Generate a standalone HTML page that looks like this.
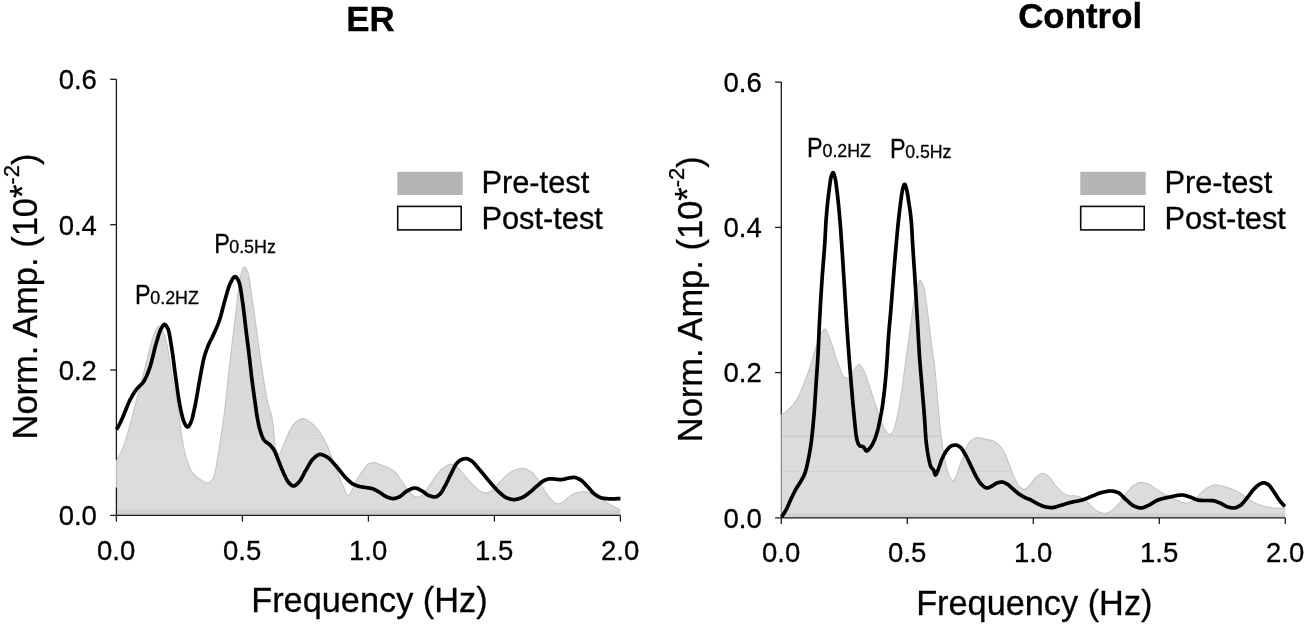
<!DOCTYPE html>
<html><head><meta charset="utf-8"><title>ER vs Control</title>
<style>
html,body{margin:0;padding:0;background:#fff;}
body{width:1306px;height:625px;overflow:hidden;}
svg{display:block;will-change:transform;opacity:0.999;}
svg text{font-family:"Liberation Sans",sans-serif;fill:#000;stroke:#000;stroke-width:0.3px;stroke-linejoin:round;}
</style></head>
<body>
<svg width="1306" height="625" viewBox="0 0 1306 625">
<defs><pattern id="hatch" width="8" height="2.6" patternUnits="userSpaceOnUse"><rect width="8" height="1" y="0.8" fill="#d5d5d5"/></pattern></defs>
<rect width="1306" height="625" fill="#fff"/>
<g id="left">
<path d="M116.4,460.6 L116.9,459.9 L117.4,459.1 L117.9,458.3 L118.4,457.4 L118.9,456.5 L119.4,455.6 L119.9,454.6 L120.4,453.5 L120.9,452.5 L121.4,451.4 L121.9,450.2 L122.4,449.0 L122.9,447.8 L123.4,446.4 L123.9,445.0 L124.4,443.6 L124.9,442.1 L125.4,440.5 L125.9,438.9 L126.4,437.3 L126.9,435.6 L127.4,434.0 L127.9,432.3 L128.4,430.7 L128.9,428.9 L129.4,427.2 L129.9,425.4 L130.4,423.5 L130.9,421.6 L131.4,419.7 L131.9,417.8 L132.4,415.9 L132.9,413.9 L133.4,412.0 L133.9,410.1 L134.4,408.1 L134.9,406.2 L135.4,404.3 L135.9,402.4 L136.4,400.5 L136.9,398.6 L137.4,396.8 L137.9,394.9 L138.4,393.1 L138.9,391.2 L139.4,389.4 L139.9,387.5 L140.4,385.6 L140.9,383.8 L141.4,381.9 L141.9,380.0 L142.4,378.1 L142.9,376.2 L143.4,374.3 L143.9,372.4 L144.4,370.4 L144.9,368.4 L145.4,366.4 L145.9,364.3 L146.4,362.2 L146.9,360.2 L147.4,358.1 L147.9,356.1 L148.4,354.0 L148.9,352.1 L149.4,350.2 L149.9,348.4 L150.4,346.6 L150.9,344.8 L151.4,342.9 L151.9,341.1 L152.4,339.4 L152.9,337.7 L153.4,336.1 L153.9,334.7 L154.4,333.3 L154.9,332.2 L155.4,331.2 L155.9,330.1 L156.4,329.1 L156.9,328.2 L157.4,327.3 L157.9,326.7 L158.4,326.2 L158.9,326.0 L159.4,326.1 L159.9,326.5 L160.4,327.0 L160.9,327.8 L161.4,328.7 L161.9,329.7 L162.4,330.7 L162.9,331.8 L163.4,332.9 L163.9,334.1 L164.4,335.5 L164.9,337.1 L165.4,338.8 L165.9,340.6 L166.4,342.6 L166.9,344.6 L167.4,346.8 L167.9,349.4 L168.4,352.2 L168.9,355.2 L169.4,358.3 L169.9,361.4 L170.4,364.5 L170.9,367.8 L171.4,371.2 L171.9,374.6 L172.4,378.1 L172.9,381.4 L173.4,384.5 L173.9,387.5 L174.4,390.0 L174.9,392.3 L175.4,394.5 L175.9,396.6 L176.4,398.9 L176.9,401.4 L177.4,404.5 L177.9,407.9 L178.4,411.7 L178.9,415.7 L179.4,419.6 L179.9,423.3 L180.4,426.8 L180.9,430.4 L181.4,434.0 L181.9,437.5 L182.4,440.6 L182.9,443.5 L183.4,446.0 L183.9,448.3 L184.4,450.5 L184.9,452.6 L185.4,454.6 L185.9,456.4 L186.4,458.1 L186.9,459.7 L187.4,461.2 L187.9,462.7 L188.4,464.1 L188.9,465.5 L189.4,466.8 L189.9,468.0 L190.4,469.2 L190.9,470.2 L191.4,471.1 L191.9,471.9 L192.4,472.5 L192.9,473.1 L193.4,473.7 L193.9,474.2 L194.4,474.7 L194.9,475.2 L195.4,475.7 L195.9,476.1 L196.4,476.5 L196.9,476.9 L197.4,477.2 L197.9,477.6 L198.4,477.9 L198.9,478.3 L199.4,478.6 L199.9,478.9 L200.4,479.3 L200.9,479.6 L201.4,480.0 L201.9,480.3 L202.4,480.7 L202.9,481.0 L203.4,481.4 L203.9,481.7 L204.4,482.0 L204.9,482.2 L205.4,482.5 L205.9,482.7 L206.4,482.8 L206.9,482.9 L207.4,483.0 L207.9,483.0 L208.4,482.9 L208.9,482.7 L209.4,482.4 L209.9,482.0 L210.4,481.6 L210.9,481.2 L211.4,480.7 L211.9,480.1 L212.4,479.4 L212.9,478.4 L213.4,477.2 L213.9,475.7 L214.4,474.1 L214.9,472.4 L215.4,470.4 L215.9,468.1 L216.4,465.4 L216.9,462.6 L217.4,459.6 L217.9,456.6 L218.4,453.6 L218.9,450.3 L219.4,447.0 L219.9,443.5 L220.4,440.1 L220.9,436.7 L221.4,433.4 L221.9,430.2 L222.4,427.0 L222.9,423.7 L223.4,420.3 L223.9,416.7 L224.4,412.9 L224.9,408.7 L225.4,404.4 L225.9,399.9 L226.4,395.3 L226.9,390.6 L227.4,385.7 L227.9,380.9 L228.4,376.3 L228.9,371.6 L229.4,366.9 L229.9,362.4 L230.4,357.9 L230.9,353.5 L231.4,349.2 L231.9,345.0 L232.4,340.8 L232.9,336.7 L233.4,332.8 L233.9,328.8 L234.4,324.8 L234.9,320.8 L235.4,316.6 L235.9,312.1 L236.4,307.5 L236.9,302.9 L237.4,298.4 L237.9,294.1 L238.4,290.1 L238.9,286.6 L239.4,283.5 L239.9,280.5 L240.4,277.6 L240.9,275.1 L241.4,272.9 L241.9,271.3 L242.4,270.0 L242.9,268.9 L243.4,267.9 L243.9,267.2 L244.4,267.0 L244.9,267.2 L245.4,267.6 L245.9,268.3 L246.4,269.2 L246.9,270.3 L247.4,271.5 L247.9,272.7 L248.4,274.3 L248.9,276.6 L249.4,279.5 L249.9,282.8 L250.4,286.4 L250.9,290.1 L251.4,293.8 L251.9,297.3 L252.4,300.7 L252.9,304.1 L253.4,307.5 L253.9,311.0 L254.4,314.5 L254.9,318.1 L255.4,321.7 L255.9,325.3 L256.4,328.9 L256.9,332.6 L257.4,336.4 L257.9,340.2 L258.4,344.0 L258.9,347.7 L259.4,351.3 L259.9,354.8 L260.4,358.3 L260.9,361.8 L261.4,365.2 L261.9,368.6 L262.4,371.9 L262.9,375.2 L263.4,378.3 L263.9,381.4 L264.4,384.4 L264.9,387.4 L265.4,390.4 L265.9,393.4 L266.4,396.2 L266.9,398.9 L267.4,401.3 L267.9,403.6 L268.4,405.5 L268.9,407.2 L269.4,408.7 L269.9,410.2 L270.4,411.7 L270.9,413.3 L271.4,415.2 L271.9,417.4 L272.4,420.0 L272.9,423.3 L273.4,427.5 L273.9,432.9 L274.4,439.4 L274.9,445.4 L275.4,447.5 L275.9,449.2 L276.4,450.6 L276.9,451.8 L277.4,452.7 L277.9,453.4 L278.4,453.8 L278.9,454.0 L279.4,453.9 L279.9,453.4 L280.4,452.7 L280.9,451.7 L281.4,450.6 L281.9,449.3 L282.4,448.0 L282.9,446.7 L283.4,445.4 L283.9,444.2 L284.4,443.1 L284.9,441.9 L285.4,440.7 L285.9,439.5 L286.4,438.2 L286.9,436.9 L287.4,435.6 L287.9,434.4 L288.4,433.2 L288.9,432.1 L289.4,431.1 L289.9,430.2 L290.4,429.3 L290.9,428.5 L291.4,427.7 L291.9,426.9 L292.4,426.1 L292.9,425.4 L293.4,424.7 L293.9,424.0 L294.4,423.4 L294.9,422.8 L295.4,422.3 L295.9,421.8 L296.4,421.4 L296.9,421.1 L297.4,420.8 L297.9,420.5 L298.4,420.2 L298.9,419.9 L299.4,419.6 L299.9,419.4 L300.4,419.2 L300.9,419.0 L301.4,418.8 L301.9,418.7 L302.4,418.6 L302.9,418.6 L303.4,418.6 L303.9,418.7 L304.4,418.8 L304.9,419.0 L305.4,419.2 L305.9,419.4 L306.4,419.7 L306.9,420.0 L307.4,420.3 L307.9,420.6 L308.4,420.9 L308.9,421.3 L309.4,421.6 L309.9,421.9 L310.4,422.3 L310.9,422.6 L311.4,423.0 L311.9,423.4 L312.4,423.9 L312.9,424.3 L313.4,424.8 L313.9,425.3 L314.4,425.8 L314.9,426.4 L315.4,426.9 L315.9,427.5 L316.4,428.1 L316.9,428.7 L317.4,429.3 L317.9,429.9 L318.4,430.5 L318.9,431.2 L319.4,431.8 L319.9,432.5 L320.4,433.3 L320.9,434.0 L321.4,434.8 L321.9,435.6 L322.4,436.4 L322.9,437.3 L323.4,438.1 L323.9,439.0 L324.4,439.9 L324.9,440.9 L325.4,441.8 L325.9,442.8 L326.4,443.8 L326.9,444.9 L327.4,446.1 L327.9,447.3 L328.4,448.5 L328.9,449.8 L329.4,451.1 L329.9,452.4 L330.4,453.8 L330.9,455.1 L331.4,456.4 L331.9,457.7 L332.4,459.0 L332.9,460.4 L333.4,461.7 L333.9,463.1 L334.4,464.4 L334.9,465.8 L335.4,467.2 L335.9,468.5 L336.4,469.9 L336.9,471.2 L337.4,472.5 L337.9,473.8 L338.4,475.0 L338.9,476.2 L339.4,477.5 L339.9,478.7 L340.4,479.9 L340.9,481.1 L341.4,482.2 L341.9,483.4 L342.4,484.5 L342.9,485.6 L343.4,486.7 L343.9,487.8 L344.4,488.9 L344.9,490.1 L345.4,491.4 L345.9,492.6 L346.4,493.7 L346.9,494.6 L347.4,495.3 L347.9,495.6 L348.4,495.5 L348.9,495.2 L349.4,494.7 L349.9,494.1 L350.4,493.5 L350.9,492.6 L351.4,491.6 L351.9,490.4 L352.4,489.3 L352.9,488.2 L353.4,487.2 L353.9,486.2 L354.4,485.1 L354.9,484.1 L355.4,483.0 L355.9,482.0 L356.4,481.0 L356.9,480.0 L357.4,479.1 L357.9,478.2 L358.4,477.3 L358.9,476.5 L359.4,475.7 L359.9,474.9 L360.4,474.1 L360.9,473.3 L361.4,472.5 L361.9,471.8 L362.4,471.1 L362.9,470.4 L363.4,469.8 L363.9,469.1 L364.4,468.5 L364.9,467.8 L365.4,467.2 L365.9,466.5 L366.4,465.9 L366.9,465.3 L367.4,464.7 L367.9,464.3 L368.4,463.9 L368.9,463.6 L369.4,463.5 L369.9,463.3 L370.4,463.2 L370.9,463.0 L371.4,462.9 L371.9,462.8 L372.4,462.7 L372.9,462.7 L373.4,462.6 L373.9,462.6 L374.4,462.6 L374.9,462.7 L375.4,462.8 L375.9,462.9 L376.4,463.1 L376.9,463.2 L377.4,463.4 L377.9,463.7 L378.4,463.9 L378.9,464.1 L379.4,464.3 L379.9,464.6 L380.4,464.8 L380.9,465.0 L381.4,465.1 L381.9,465.3 L382.4,465.5 L382.9,465.7 L383.4,465.8 L383.9,466.0 L384.4,466.2 L384.9,466.3 L385.4,466.5 L385.9,466.7 L386.4,466.9 L386.9,467.1 L387.4,467.3 L387.9,467.5 L388.4,467.7 L388.9,468.0 L389.4,468.2 L389.9,468.5 L390.4,468.7 L390.9,469.0 L391.4,469.3 L391.9,469.6 L392.4,470.0 L392.9,470.3 L393.4,470.7 L393.9,471.1 L394.4,471.5 L394.9,471.9 L395.4,472.4 L395.9,472.9 L396.4,473.5 L396.9,474.1 L397.4,474.8 L397.9,475.5 L398.4,476.2 L398.9,476.9 L399.4,477.7 L399.9,478.4 L400.4,479.2 L400.9,479.9 L401.4,480.6 L401.9,481.3 L402.4,482.0 L402.9,482.8 L403.4,483.5 L403.9,484.3 L404.4,485.0 L404.9,485.8 L405.4,486.5 L405.9,487.2 L406.4,487.9 L406.9,488.6 L407.4,489.3 L407.9,489.9 L408.4,490.5 L408.9,491.1 L409.4,491.7 L409.9,492.3 L410.4,492.9 L410.9,493.5 L411.4,494.0 L411.9,494.5 L412.4,495.0 L412.9,495.4 L413.4,495.7 L413.9,496.0 L414.4,496.2 L414.9,496.3 L415.4,496.5 L415.9,496.7 L416.4,496.8 L416.9,496.9 L417.4,497.0 L417.9,497.0 L418.4,497.0 L418.9,496.9 L419.4,496.7 L419.9,496.4 L420.4,496.1 L420.9,495.7 L421.4,495.3 L421.9,494.9 L422.4,494.5 L422.9,494.1 L423.4,493.6 L423.9,493.1 L424.4,492.6 L424.9,491.9 L425.4,491.3 L425.9,490.6 L426.4,489.8 L426.9,489.1 L427.4,488.3 L427.9,487.6 L428.4,486.8 L428.9,486.1 L429.4,485.4 L429.9,484.7 L430.4,484.0 L430.9,483.3 L431.4,482.5 L431.9,481.8 L432.4,481.1 L432.9,480.3 L433.4,479.6 L433.9,478.9 L434.4,478.1 L434.9,477.5 L435.4,476.8 L435.9,476.1 L436.4,475.5 L436.9,474.8 L437.4,474.2 L437.9,473.5 L438.4,472.9 L438.9,472.2 L439.4,471.6 L439.9,471.0 L440.4,470.4 L440.9,469.8 L441.4,469.3 L441.9,468.9 L442.4,468.4 L442.9,468.1 L443.4,467.7 L443.9,467.4 L444.4,467.1 L444.9,466.8 L445.4,466.5 L445.9,466.2 L446.4,465.9 L446.9,465.6 L447.4,465.3 L447.9,465.1 L448.4,464.9 L448.9,464.7 L449.4,464.6 L449.9,464.5 L450.4,464.4 L450.9,464.4 L451.4,464.4 L451.9,464.5 L452.4,464.6 L452.9,464.8 L453.4,465.0 L453.9,465.2 L454.4,465.5 L454.9,465.8 L455.4,466.2 L455.9,466.5 L456.4,466.8 L456.9,467.2 L457.4,467.6 L457.9,467.9 L458.4,468.3 L458.9,468.7 L459.4,469.2 L459.9,469.7 L460.4,470.3 L460.9,470.9 L461.4,471.5 L461.9,472.1 L462.4,472.8 L462.9,473.4 L463.4,474.1 L463.9,474.7 L464.4,475.3 L464.9,475.9 L465.4,476.5 L465.9,477.0 L466.4,477.6 L466.9,478.2 L467.4,478.8 L467.9,479.4 L468.4,480.0 L468.9,480.5 L469.4,481.1 L469.9,481.7 L470.4,482.3 L470.9,482.8 L471.4,483.4 L471.9,483.9 L472.4,484.4 L472.9,484.9 L473.4,485.4 L473.9,485.9 L474.4,486.4 L474.9,486.9 L475.4,487.3 L475.9,487.8 L476.4,488.3 L476.9,488.7 L477.4,489.2 L477.9,489.6 L478.4,490.0 L478.9,490.3 L479.4,490.7 L479.9,490.9 L480.4,491.2 L480.9,491.5 L481.4,491.8 L481.9,492.0 L482.4,492.3 L482.9,492.5 L483.4,492.7 L483.9,492.9 L484.4,493.0 L484.9,493.0 L485.4,493.0 L485.9,492.9 L486.4,492.8 L486.9,492.7 L487.4,492.6 L487.9,492.4 L488.4,492.2 L488.9,492.0 L489.4,491.8 L489.9,491.5 L490.4,491.3 L490.9,491.0 L491.4,490.8 L491.9,490.5 L492.4,490.1 L492.9,489.7 L493.4,489.2 L493.9,488.7 L494.4,488.2 L494.9,487.6 L495.4,487.1 L495.9,486.5 L496.4,485.9 L496.9,485.3 L497.4,484.7 L497.9,484.2 L498.4,483.6 L498.9,483.1 L499.4,482.6 L499.9,482.1 L500.4,481.6 L500.9,481.0 L501.4,480.5 L501.9,479.9 L502.4,479.4 L502.9,478.9 L503.4,478.3 L503.9,477.8 L504.4,477.3 L504.9,476.8 L505.4,476.4 L505.9,475.9 L506.4,475.5 L506.9,475.1 L507.4,474.7 L507.9,474.3 L508.4,473.9 L508.9,473.5 L509.4,473.2 L509.9,472.8 L510.4,472.4 L510.9,472.1 L511.4,471.7 L511.9,471.4 L512.4,471.1 L512.9,470.9 L513.4,470.6 L513.9,470.4 L514.4,470.2 L514.9,470.0 L515.4,469.9 L515.9,469.8 L516.4,469.6 L516.9,469.5 L517.4,469.4 L517.9,469.3 L518.4,469.1 L518.9,469.0 L519.4,469.0 L519.9,468.9 L520.4,468.8 L520.9,468.7 L521.4,468.7 L521.9,468.6 L522.4,468.6 L522.9,468.6 L523.4,468.6 L523.9,468.7 L524.4,468.7 L524.9,468.8 L525.4,469.0 L525.9,469.1 L526.4,469.3 L526.9,469.5 L527.4,469.7 L527.9,470.0 L528.4,470.2 L528.9,470.4 L529.4,470.7 L529.9,470.9 L530.4,471.2 L530.9,471.5 L531.4,471.9 L531.9,472.3 L532.4,472.8 L532.9,473.2 L533.4,473.7 L533.9,474.3 L534.4,474.8 L534.9,475.4 L535.4,476.0 L535.9,476.6 L536.4,477.2 L536.9,477.9 L537.4,478.5 L537.9,479.2 L538.4,480.0 L538.9,480.8 L539.4,481.7 L539.9,482.6 L540.4,483.5 L540.9,484.4 L541.4,485.3 L541.9,486.2 L542.4,487.0 L542.9,487.8 L543.4,488.6 L543.9,489.4 L544.4,490.2 L544.9,491.0 L545.4,491.8 L545.9,492.6 L546.4,493.4 L546.9,494.2 L547.4,494.9 L547.9,495.6 L548.4,496.3 L548.9,496.9 L549.4,497.5 L549.9,498.1 L550.4,498.6 L550.9,499.2 L551.4,499.7 L551.9,500.2 L552.4,500.7 L552.9,501.2 L553.4,501.6 L553.9,501.9 L554.4,502.3 L554.9,502.6 L555.4,503.0 L555.9,503.3 L556.4,503.5 L556.9,503.8 L557.4,503.9 L557.9,504.0 L558.4,504.0 L558.9,503.9 L559.4,503.8 L559.9,503.6 L560.4,503.4 L560.9,503.1 L561.4,502.9 L561.9,502.6 L562.4,502.3 L562.9,502.1 L563.4,501.8 L563.9,501.4 L564.4,501.0 L564.9,500.6 L565.4,500.2 L565.9,499.7 L566.4,499.2 L566.9,498.8 L567.4,498.3 L567.9,497.9 L568.4,497.4 L568.9,497.1 L569.4,496.7 L569.9,496.4 L570.4,496.0 L570.9,495.7 L571.4,495.4 L571.9,495.0 L572.4,494.7 L572.9,494.4 L573.4,494.1 L573.9,493.9 L574.4,493.6 L574.9,493.4 L575.4,493.2 L575.9,493.0 L576.4,492.9 L576.9,492.7 L577.4,492.6 L577.9,492.4 L578.4,492.3 L578.9,492.2 L579.4,492.1 L579.9,492.0 L580.4,491.9 L580.9,491.8 L581.4,491.7 L581.9,491.6 L582.4,491.6 L582.9,491.6 L583.4,491.6 L583.9,491.6 L584.4,491.7 L584.9,491.8 L585.4,491.9 L585.9,492.0 L586.4,492.1 L586.9,492.2 L587.4,492.4 L587.9,492.5 L588.4,492.7 L588.9,492.9 L589.4,493.0 L589.9,493.2 L590.4,493.4 L590.9,493.6 L591.4,493.7 L591.9,493.9 L592.4,494.1 L592.9,494.4 L593.4,494.6 L593.9,494.9 L594.4,495.1 L594.9,495.4 L595.4,495.7 L595.9,496.0 L596.4,496.2 L596.9,496.5 L597.4,496.8 L597.9,497.1 L598.4,497.5 L598.9,497.8 L599.4,498.1 L599.9,498.4 L600.4,498.7 L600.9,498.9 L601.4,499.2 L601.9,499.5 L602.4,499.8 L602.9,500.1 L603.4,500.4 L603.9,500.7 L604.4,501.0 L604.9,501.4 L605.4,501.7 L605.9,502.0 L606.4,502.3 L606.9,502.6 L607.4,502.9 L607.9,503.2 L608.4,503.5 L608.9,503.8 L609.4,504.1 L609.9,504.4 L610.4,504.7 L610.9,504.9 L611.4,505.2 L611.9,505.5 L612.4,505.7 L612.9,506.0 L613.4,506.3 L613.9,506.5 L614.4,506.8 L614.9,507.0 L615.4,507.3 L615.9,507.5 L616.4,507.8 L616.9,508.0 L617.4,508.2 L617.9,508.5 L618.4,508.7 L618.9,508.9 L619.4,509.2 L619.9,509.4 L620.4,509.6 L620.4,515.4 L116.4,515.4 Z" fill="#dcdcdc" stroke="none"/>
<clipPath id="cER"><path d="M116.4,460.6 L116.9,459.9 L117.4,459.1 L117.9,458.3 L118.4,457.4 L118.9,456.5 L119.4,455.6 L119.9,454.6 L120.4,453.5 L120.9,452.5 L121.4,451.4 L121.9,450.2 L122.4,449.0 L122.9,447.8 L123.4,446.4 L123.9,445.0 L124.4,443.6 L124.9,442.1 L125.4,440.5 L125.9,438.9 L126.4,437.3 L126.9,435.6 L127.4,434.0 L127.9,432.3 L128.4,430.7 L128.9,428.9 L129.4,427.2 L129.9,425.4 L130.4,423.5 L130.9,421.6 L131.4,419.7 L131.9,417.8 L132.4,415.9 L132.9,413.9 L133.4,412.0 L133.9,410.1 L134.4,408.1 L134.9,406.2 L135.4,404.3 L135.9,402.4 L136.4,400.5 L136.9,398.6 L137.4,396.8 L137.9,394.9 L138.4,393.1 L138.9,391.2 L139.4,389.4 L139.9,387.5 L140.4,385.6 L140.9,383.8 L141.4,381.9 L141.9,380.0 L142.4,378.1 L142.9,376.2 L143.4,374.3 L143.9,372.4 L144.4,370.4 L144.9,368.4 L145.4,366.4 L145.9,364.3 L146.4,362.2 L146.9,360.2 L147.4,358.1 L147.9,356.1 L148.4,354.0 L148.9,352.1 L149.4,350.2 L149.9,348.4 L150.4,346.6 L150.9,344.8 L151.4,342.9 L151.9,341.1 L152.4,339.4 L152.9,337.7 L153.4,336.1 L153.9,334.7 L154.4,333.3 L154.9,332.2 L155.4,331.2 L155.9,330.1 L156.4,329.1 L156.9,328.2 L157.4,327.3 L157.9,326.7 L158.4,326.2 L158.9,326.0 L159.4,326.1 L159.9,326.5 L160.4,327.0 L160.9,327.8 L161.4,328.7 L161.9,329.7 L162.4,330.7 L162.9,331.8 L163.4,332.9 L163.9,334.1 L164.4,335.5 L164.9,337.1 L165.4,338.8 L165.9,340.6 L166.4,342.6 L166.9,344.6 L167.4,346.8 L167.9,349.4 L168.4,352.2 L168.9,355.2 L169.4,358.3 L169.9,361.4 L170.4,364.5 L170.9,367.8 L171.4,371.2 L171.9,374.6 L172.4,378.1 L172.9,381.4 L173.4,384.5 L173.9,387.5 L174.4,390.0 L174.9,392.3 L175.4,394.5 L175.9,396.6 L176.4,398.9 L176.9,401.4 L177.4,404.5 L177.9,407.9 L178.4,411.7 L178.9,415.7 L179.4,419.6 L179.9,423.3 L180.4,426.8 L180.9,430.4 L181.4,434.0 L181.9,437.5 L182.4,440.6 L182.9,443.5 L183.4,446.0 L183.9,448.3 L184.4,450.5 L184.9,452.6 L185.4,454.6 L185.9,456.4 L186.4,458.1 L186.9,459.7 L187.4,461.2 L187.9,462.7 L188.4,464.1 L188.9,465.5 L189.4,466.8 L189.9,468.0 L190.4,469.2 L190.9,470.2 L191.4,471.1 L191.9,471.9 L192.4,472.5 L192.9,473.1 L193.4,473.7 L193.9,474.2 L194.4,474.7 L194.9,475.2 L195.4,475.7 L195.9,476.1 L196.4,476.5 L196.9,476.9 L197.4,477.2 L197.9,477.6 L198.4,477.9 L198.9,478.3 L199.4,478.6 L199.9,478.9 L200.4,479.3 L200.9,479.6 L201.4,480.0 L201.9,480.3 L202.4,480.7 L202.9,481.0 L203.4,481.4 L203.9,481.7 L204.4,482.0 L204.9,482.2 L205.4,482.5 L205.9,482.7 L206.4,482.8 L206.9,482.9 L207.4,483.0 L207.9,483.0 L208.4,482.9 L208.9,482.7 L209.4,482.4 L209.9,482.0 L210.4,481.6 L210.9,481.2 L211.4,480.7 L211.9,480.1 L212.4,479.4 L212.9,478.4 L213.4,477.2 L213.9,475.7 L214.4,474.1 L214.9,472.4 L215.4,470.4 L215.9,468.1 L216.4,465.4 L216.9,462.6 L217.4,459.6 L217.9,456.6 L218.4,453.6 L218.9,450.3 L219.4,447.0 L219.9,443.5 L220.4,440.1 L220.9,436.7 L221.4,433.4 L221.9,430.2 L222.4,427.0 L222.9,423.7 L223.4,420.3 L223.9,416.7 L224.4,412.9 L224.9,408.7 L225.4,404.4 L225.9,399.9 L226.4,395.3 L226.9,390.6 L227.4,385.7 L227.9,380.9 L228.4,376.3 L228.9,371.6 L229.4,366.9 L229.9,362.4 L230.4,357.9 L230.9,353.5 L231.4,349.2 L231.9,345.0 L232.4,340.8 L232.9,336.7 L233.4,332.8 L233.9,328.8 L234.4,324.8 L234.9,320.8 L235.4,316.6 L235.9,312.1 L236.4,307.5 L236.9,302.9 L237.4,298.4 L237.9,294.1 L238.4,290.1 L238.9,286.6 L239.4,283.5 L239.9,280.5 L240.4,277.6 L240.9,275.1 L241.4,272.9 L241.9,271.3 L242.4,270.0 L242.9,268.9 L243.4,267.9 L243.9,267.2 L244.4,267.0 L244.9,267.2 L245.4,267.6 L245.9,268.3 L246.4,269.2 L246.9,270.3 L247.4,271.5 L247.9,272.7 L248.4,274.3 L248.9,276.6 L249.4,279.5 L249.9,282.8 L250.4,286.4 L250.9,290.1 L251.4,293.8 L251.9,297.3 L252.4,300.7 L252.9,304.1 L253.4,307.5 L253.9,311.0 L254.4,314.5 L254.9,318.1 L255.4,321.7 L255.9,325.3 L256.4,328.9 L256.9,332.6 L257.4,336.4 L257.9,340.2 L258.4,344.0 L258.9,347.7 L259.4,351.3 L259.9,354.8 L260.4,358.3 L260.9,361.8 L261.4,365.2 L261.9,368.6 L262.4,371.9 L262.9,375.2 L263.4,378.3 L263.9,381.4 L264.4,384.4 L264.9,387.4 L265.4,390.4 L265.9,393.4 L266.4,396.2 L266.9,398.9 L267.4,401.3 L267.9,403.6 L268.4,405.5 L268.9,407.2 L269.4,408.7 L269.9,410.2 L270.4,411.7 L270.9,413.3 L271.4,415.2 L271.9,417.4 L272.4,420.0 L272.9,423.3 L273.4,427.5 L273.9,432.9 L274.4,439.4 L274.9,445.4 L275.4,447.5 L275.9,449.2 L276.4,450.6 L276.9,451.8 L277.4,452.7 L277.9,453.4 L278.4,453.8 L278.9,454.0 L279.4,453.9 L279.9,453.4 L280.4,452.7 L280.9,451.7 L281.4,450.6 L281.9,449.3 L282.4,448.0 L282.9,446.7 L283.4,445.4 L283.9,444.2 L284.4,443.1 L284.9,441.9 L285.4,440.7 L285.9,439.5 L286.4,438.2 L286.9,436.9 L287.4,435.6 L287.9,434.4 L288.4,433.2 L288.9,432.1 L289.4,431.1 L289.9,430.2 L290.4,429.3 L290.9,428.5 L291.4,427.7 L291.9,426.9 L292.4,426.1 L292.9,425.4 L293.4,424.7 L293.9,424.0 L294.4,423.4 L294.9,422.8 L295.4,422.3 L295.9,421.8 L296.4,421.4 L296.9,421.1 L297.4,420.8 L297.9,420.5 L298.4,420.2 L298.9,419.9 L299.4,419.6 L299.9,419.4 L300.4,419.2 L300.9,419.0 L301.4,418.8 L301.9,418.7 L302.4,418.6 L302.9,418.6 L303.4,418.6 L303.9,418.7 L304.4,418.8 L304.9,419.0 L305.4,419.2 L305.9,419.4 L306.4,419.7 L306.9,420.0 L307.4,420.3 L307.9,420.6 L308.4,420.9 L308.9,421.3 L309.4,421.6 L309.9,421.9 L310.4,422.3 L310.9,422.6 L311.4,423.0 L311.9,423.4 L312.4,423.9 L312.9,424.3 L313.4,424.8 L313.9,425.3 L314.4,425.8 L314.9,426.4 L315.4,426.9 L315.9,427.5 L316.4,428.1 L316.9,428.7 L317.4,429.3 L317.9,429.9 L318.4,430.5 L318.9,431.2 L319.4,431.8 L319.9,432.5 L320.4,433.3 L320.9,434.0 L321.4,434.8 L321.9,435.6 L322.4,436.4 L322.9,437.3 L323.4,438.1 L323.9,439.0 L324.4,439.9 L324.9,440.9 L325.4,441.8 L325.9,442.8 L326.4,443.8 L326.9,444.9 L327.4,446.1 L327.9,447.3 L328.4,448.5 L328.9,449.8 L329.4,451.1 L329.9,452.4 L330.4,453.8 L330.9,455.1 L331.4,456.4 L331.9,457.7 L332.4,459.0 L332.9,460.4 L333.4,461.7 L333.9,463.1 L334.4,464.4 L334.9,465.8 L335.4,467.2 L335.9,468.5 L336.4,469.9 L336.9,471.2 L337.4,472.5 L337.9,473.8 L338.4,475.0 L338.9,476.2 L339.4,477.5 L339.9,478.7 L340.4,479.9 L340.9,481.1 L341.4,482.2 L341.9,483.4 L342.4,484.5 L342.9,485.6 L343.4,486.7 L343.9,487.8 L344.4,488.9 L344.9,490.1 L345.4,491.4 L345.9,492.6 L346.4,493.7 L346.9,494.6 L347.4,495.3 L347.9,495.6 L348.4,495.5 L348.9,495.2 L349.4,494.7 L349.9,494.1 L350.4,493.5 L350.9,492.6 L351.4,491.6 L351.9,490.4 L352.4,489.3 L352.9,488.2 L353.4,487.2 L353.9,486.2 L354.4,485.1 L354.9,484.1 L355.4,483.0 L355.9,482.0 L356.4,481.0 L356.9,480.0 L357.4,479.1 L357.9,478.2 L358.4,477.3 L358.9,476.5 L359.4,475.7 L359.9,474.9 L360.4,474.1 L360.9,473.3 L361.4,472.5 L361.9,471.8 L362.4,471.1 L362.9,470.4 L363.4,469.8 L363.9,469.1 L364.4,468.5 L364.9,467.8 L365.4,467.2 L365.9,466.5 L366.4,465.9 L366.9,465.3 L367.4,464.7 L367.9,464.3 L368.4,463.9 L368.9,463.6 L369.4,463.5 L369.9,463.3 L370.4,463.2 L370.9,463.0 L371.4,462.9 L371.9,462.8 L372.4,462.7 L372.9,462.7 L373.4,462.6 L373.9,462.6 L374.4,462.6 L374.9,462.7 L375.4,462.8 L375.9,462.9 L376.4,463.1 L376.9,463.2 L377.4,463.4 L377.9,463.7 L378.4,463.9 L378.9,464.1 L379.4,464.3 L379.9,464.6 L380.4,464.8 L380.9,465.0 L381.4,465.1 L381.9,465.3 L382.4,465.5 L382.9,465.7 L383.4,465.8 L383.9,466.0 L384.4,466.2 L384.9,466.3 L385.4,466.5 L385.9,466.7 L386.4,466.9 L386.9,467.1 L387.4,467.3 L387.9,467.5 L388.4,467.7 L388.9,468.0 L389.4,468.2 L389.9,468.5 L390.4,468.7 L390.9,469.0 L391.4,469.3 L391.9,469.6 L392.4,470.0 L392.9,470.3 L393.4,470.7 L393.9,471.1 L394.4,471.5 L394.9,471.9 L395.4,472.4 L395.9,472.9 L396.4,473.5 L396.9,474.1 L397.4,474.8 L397.9,475.5 L398.4,476.2 L398.9,476.9 L399.4,477.7 L399.9,478.4 L400.4,479.2 L400.9,479.9 L401.4,480.6 L401.9,481.3 L402.4,482.0 L402.9,482.8 L403.4,483.5 L403.9,484.3 L404.4,485.0 L404.9,485.8 L405.4,486.5 L405.9,487.2 L406.4,487.9 L406.9,488.6 L407.4,489.3 L407.9,489.9 L408.4,490.5 L408.9,491.1 L409.4,491.7 L409.9,492.3 L410.4,492.9 L410.9,493.5 L411.4,494.0 L411.9,494.5 L412.4,495.0 L412.9,495.4 L413.4,495.7 L413.9,496.0 L414.4,496.2 L414.9,496.3 L415.4,496.5 L415.9,496.7 L416.4,496.8 L416.9,496.9 L417.4,497.0 L417.9,497.0 L418.4,497.0 L418.9,496.9 L419.4,496.7 L419.9,496.4 L420.4,496.1 L420.9,495.7 L421.4,495.3 L421.9,494.9 L422.4,494.5 L422.9,494.1 L423.4,493.6 L423.9,493.1 L424.4,492.6 L424.9,491.9 L425.4,491.3 L425.9,490.6 L426.4,489.8 L426.9,489.1 L427.4,488.3 L427.9,487.6 L428.4,486.8 L428.9,486.1 L429.4,485.4 L429.9,484.7 L430.4,484.0 L430.9,483.3 L431.4,482.5 L431.9,481.8 L432.4,481.1 L432.9,480.3 L433.4,479.6 L433.9,478.9 L434.4,478.1 L434.9,477.5 L435.4,476.8 L435.9,476.1 L436.4,475.5 L436.9,474.8 L437.4,474.2 L437.9,473.5 L438.4,472.9 L438.9,472.2 L439.4,471.6 L439.9,471.0 L440.4,470.4 L440.9,469.8 L441.4,469.3 L441.9,468.9 L442.4,468.4 L442.9,468.1 L443.4,467.7 L443.9,467.4 L444.4,467.1 L444.9,466.8 L445.4,466.5 L445.9,466.2 L446.4,465.9 L446.9,465.6 L447.4,465.3 L447.9,465.1 L448.4,464.9 L448.9,464.7 L449.4,464.6 L449.9,464.5 L450.4,464.4 L450.9,464.4 L451.4,464.4 L451.9,464.5 L452.4,464.6 L452.9,464.8 L453.4,465.0 L453.9,465.2 L454.4,465.5 L454.9,465.8 L455.4,466.2 L455.9,466.5 L456.4,466.8 L456.9,467.2 L457.4,467.6 L457.9,467.9 L458.4,468.3 L458.9,468.7 L459.4,469.2 L459.9,469.7 L460.4,470.3 L460.9,470.9 L461.4,471.5 L461.9,472.1 L462.4,472.8 L462.9,473.4 L463.4,474.1 L463.9,474.7 L464.4,475.3 L464.9,475.9 L465.4,476.5 L465.9,477.0 L466.4,477.6 L466.9,478.2 L467.4,478.8 L467.9,479.4 L468.4,480.0 L468.9,480.5 L469.4,481.1 L469.9,481.7 L470.4,482.3 L470.9,482.8 L471.4,483.4 L471.9,483.9 L472.4,484.4 L472.9,484.9 L473.4,485.4 L473.9,485.9 L474.4,486.4 L474.9,486.9 L475.4,487.3 L475.9,487.8 L476.4,488.3 L476.9,488.7 L477.4,489.2 L477.9,489.6 L478.4,490.0 L478.9,490.3 L479.4,490.7 L479.9,490.9 L480.4,491.2 L480.9,491.5 L481.4,491.8 L481.9,492.0 L482.4,492.3 L482.9,492.5 L483.4,492.7 L483.9,492.9 L484.4,493.0 L484.9,493.0 L485.4,493.0 L485.9,492.9 L486.4,492.8 L486.9,492.7 L487.4,492.6 L487.9,492.4 L488.4,492.2 L488.9,492.0 L489.4,491.8 L489.9,491.5 L490.4,491.3 L490.9,491.0 L491.4,490.8 L491.9,490.5 L492.4,490.1 L492.9,489.7 L493.4,489.2 L493.9,488.7 L494.4,488.2 L494.9,487.6 L495.4,487.1 L495.9,486.5 L496.4,485.9 L496.9,485.3 L497.4,484.7 L497.9,484.2 L498.4,483.6 L498.9,483.1 L499.4,482.6 L499.9,482.1 L500.4,481.6 L500.9,481.0 L501.4,480.5 L501.9,479.9 L502.4,479.4 L502.9,478.9 L503.4,478.3 L503.9,477.8 L504.4,477.3 L504.9,476.8 L505.4,476.4 L505.9,475.9 L506.4,475.5 L506.9,475.1 L507.4,474.7 L507.9,474.3 L508.4,473.9 L508.9,473.5 L509.4,473.2 L509.9,472.8 L510.4,472.4 L510.9,472.1 L511.4,471.7 L511.9,471.4 L512.4,471.1 L512.9,470.9 L513.4,470.6 L513.9,470.4 L514.4,470.2 L514.9,470.0 L515.4,469.9 L515.9,469.8 L516.4,469.6 L516.9,469.5 L517.4,469.4 L517.9,469.3 L518.4,469.1 L518.9,469.0 L519.4,469.0 L519.9,468.9 L520.4,468.8 L520.9,468.7 L521.4,468.7 L521.9,468.6 L522.4,468.6 L522.9,468.6 L523.4,468.6 L523.9,468.7 L524.4,468.7 L524.9,468.8 L525.4,469.0 L525.9,469.1 L526.4,469.3 L526.9,469.5 L527.4,469.7 L527.9,470.0 L528.4,470.2 L528.9,470.4 L529.4,470.7 L529.9,470.9 L530.4,471.2 L530.9,471.5 L531.4,471.9 L531.9,472.3 L532.4,472.8 L532.9,473.2 L533.4,473.7 L533.9,474.3 L534.4,474.8 L534.9,475.4 L535.4,476.0 L535.9,476.6 L536.4,477.2 L536.9,477.9 L537.4,478.5 L537.9,479.2 L538.4,480.0 L538.9,480.8 L539.4,481.7 L539.9,482.6 L540.4,483.5 L540.9,484.4 L541.4,485.3 L541.9,486.2 L542.4,487.0 L542.9,487.8 L543.4,488.6 L543.9,489.4 L544.4,490.2 L544.9,491.0 L545.4,491.8 L545.9,492.6 L546.4,493.4 L546.9,494.2 L547.4,494.9 L547.9,495.6 L548.4,496.3 L548.9,496.9 L549.4,497.5 L549.9,498.1 L550.4,498.6 L550.9,499.2 L551.4,499.7 L551.9,500.2 L552.4,500.7 L552.9,501.2 L553.4,501.6 L553.9,501.9 L554.4,502.3 L554.9,502.6 L555.4,503.0 L555.9,503.3 L556.4,503.5 L556.9,503.8 L557.4,503.9 L557.9,504.0 L558.4,504.0 L558.9,503.9 L559.4,503.8 L559.9,503.6 L560.4,503.4 L560.9,503.1 L561.4,502.9 L561.9,502.6 L562.4,502.3 L562.9,502.1 L563.4,501.8 L563.9,501.4 L564.4,501.0 L564.9,500.6 L565.4,500.2 L565.9,499.7 L566.4,499.2 L566.9,498.8 L567.4,498.3 L567.9,497.9 L568.4,497.4 L568.9,497.1 L569.4,496.7 L569.9,496.4 L570.4,496.0 L570.9,495.7 L571.4,495.4 L571.9,495.0 L572.4,494.7 L572.9,494.4 L573.4,494.1 L573.9,493.9 L574.4,493.6 L574.9,493.4 L575.4,493.2 L575.9,493.0 L576.4,492.9 L576.9,492.7 L577.4,492.6 L577.9,492.4 L578.4,492.3 L578.9,492.2 L579.4,492.1 L579.9,492.0 L580.4,491.9 L580.9,491.8 L581.4,491.7 L581.9,491.6 L582.4,491.6 L582.9,491.6 L583.4,491.6 L583.9,491.6 L584.4,491.7 L584.9,491.8 L585.4,491.9 L585.9,492.0 L586.4,492.1 L586.9,492.2 L587.4,492.4 L587.9,492.5 L588.4,492.7 L588.9,492.9 L589.4,493.0 L589.9,493.2 L590.4,493.4 L590.9,493.6 L591.4,493.7 L591.9,493.9 L592.4,494.1 L592.9,494.4 L593.4,494.6 L593.9,494.9 L594.4,495.1 L594.9,495.4 L595.4,495.7 L595.9,496.0 L596.4,496.2 L596.9,496.5 L597.4,496.8 L597.9,497.1 L598.4,497.5 L598.9,497.8 L599.4,498.1 L599.9,498.4 L600.4,498.7 L600.9,498.9 L601.4,499.2 L601.9,499.5 L602.4,499.8 L602.9,500.1 L603.4,500.4 L603.9,500.7 L604.4,501.0 L604.9,501.4 L605.4,501.7 L605.9,502.0 L606.4,502.3 L606.9,502.6 L607.4,502.9 L607.9,503.2 L608.4,503.5 L608.9,503.8 L609.4,504.1 L609.9,504.4 L610.4,504.7 L610.9,504.9 L611.4,505.2 L611.9,505.5 L612.4,505.7 L612.9,506.0 L613.4,506.3 L613.9,506.5 L614.4,506.8 L614.9,507.0 L615.4,507.3 L615.9,507.5 L616.4,507.8 L616.9,508.0 L617.4,508.2 L617.9,508.5 L618.4,508.7 L618.9,508.9 L619.4,509.2 L619.9,509.4 L620.4,509.6 L620.4,515.4 L116.4,515.4 Z"/></clipPath>
<g clip-path="url(#cER)">
<rect x="116.4" y="79.3" width="504.0" height="361.7" fill="url(#hatch)"/>
<rect x="116.4" y="509.8" width="504.0" height="6.0" fill="#d0d0d0"/>
</g>
<path d="M116.4,460.6 L116.9,459.9 L117.4,459.1 L117.9,458.3 L118.4,457.4 L118.9,456.5 L119.4,455.6 L119.9,454.6 L120.4,453.5 L120.9,452.5 L121.4,451.4 L121.9,450.2 L122.4,449.0 L122.9,447.8 L123.4,446.4 L123.9,445.0 L124.4,443.6 L124.9,442.1 L125.4,440.5 L125.9,438.9 L126.4,437.3 L126.9,435.6 L127.4,434.0 L127.9,432.3 L128.4,430.7 L128.9,428.9 L129.4,427.2 L129.9,425.4 L130.4,423.5 L130.9,421.6 L131.4,419.7 L131.9,417.8 L132.4,415.9 L132.9,413.9 L133.4,412.0 L133.9,410.1 L134.4,408.1 L134.9,406.2 L135.4,404.3 L135.9,402.4 L136.4,400.5 L136.9,398.6 L137.4,396.8 L137.9,394.9 L138.4,393.1 L138.9,391.2 L139.4,389.4 L139.9,387.5 L140.4,385.6 L140.9,383.8 L141.4,381.9 L141.9,380.0 L142.4,378.1 L142.9,376.2 L143.4,374.3 L143.9,372.4 L144.4,370.4 L144.9,368.4 L145.4,366.4 L145.9,364.3 L146.4,362.2 L146.9,360.2 L147.4,358.1 L147.9,356.1 L148.4,354.0 L148.9,352.1 L149.4,350.2 L149.9,348.4 L150.4,346.6 L150.9,344.8 L151.4,342.9 L151.9,341.1 L152.4,339.4 L152.9,337.7 L153.4,336.1 L153.9,334.7 L154.4,333.3 L154.9,332.2 L155.4,331.2 L155.9,330.1 L156.4,329.1 L156.9,328.2 L157.4,327.3 L157.9,326.7 L158.4,326.2 L158.9,326.0 L159.4,326.1 L159.9,326.5 L160.4,327.0 L160.9,327.8 L161.4,328.7 L161.9,329.7 L162.4,330.7 L162.9,331.8 L163.4,332.9 L163.9,334.1 L164.4,335.5 L164.9,337.1 L165.4,338.8 L165.9,340.6 L166.4,342.6 L166.9,344.6 L167.4,346.8 L167.9,349.4 L168.4,352.2 L168.9,355.2 L169.4,358.3 L169.9,361.4 L170.4,364.5 L170.9,367.8 L171.4,371.2 L171.9,374.6 L172.4,378.1 L172.9,381.4 L173.4,384.5 L173.9,387.5 L174.4,390.0 L174.9,392.3 L175.4,394.5 L175.9,396.6 L176.4,398.9 L176.9,401.4 L177.4,404.5 L177.9,407.9 L178.4,411.7 L178.9,415.7 L179.4,419.6 L179.9,423.3 L180.4,426.8 L180.9,430.4 L181.4,434.0 L181.9,437.5 L182.4,440.6 L182.9,443.5 L183.4,446.0 L183.9,448.3 L184.4,450.5 L184.9,452.6 L185.4,454.6 L185.9,456.4 L186.4,458.1 L186.9,459.7 L187.4,461.2 L187.9,462.7 L188.4,464.1 L188.9,465.5 L189.4,466.8 L189.9,468.0 L190.4,469.2 L190.9,470.2 L191.4,471.1 L191.9,471.9 L192.4,472.5 L192.9,473.1 L193.4,473.7 L193.9,474.2 L194.4,474.7 L194.9,475.2 L195.4,475.7 L195.9,476.1 L196.4,476.5 L196.9,476.9 L197.4,477.2 L197.9,477.6 L198.4,477.9 L198.9,478.3 L199.4,478.6 L199.9,478.9 L200.4,479.3 L200.9,479.6 L201.4,480.0 L201.9,480.3 L202.4,480.7 L202.9,481.0 L203.4,481.4 L203.9,481.7 L204.4,482.0 L204.9,482.2 L205.4,482.5 L205.9,482.7 L206.4,482.8 L206.9,482.9 L207.4,483.0 L207.9,483.0 L208.4,482.9 L208.9,482.7 L209.4,482.4 L209.9,482.0 L210.4,481.6 L210.9,481.2 L211.4,480.7 L211.9,480.1 L212.4,479.4 L212.9,478.4 L213.4,477.2 L213.9,475.7 L214.4,474.1 L214.9,472.4 L215.4,470.4 L215.9,468.1 L216.4,465.4 L216.9,462.6 L217.4,459.6 L217.9,456.6 L218.4,453.6 L218.9,450.3 L219.4,447.0 L219.9,443.5 L220.4,440.1 L220.9,436.7 L221.4,433.4 L221.9,430.2 L222.4,427.0 L222.9,423.7 L223.4,420.3 L223.9,416.7 L224.4,412.9 L224.9,408.7 L225.4,404.4 L225.9,399.9 L226.4,395.3 L226.9,390.6 L227.4,385.7 L227.9,380.9 L228.4,376.3 L228.9,371.6 L229.4,366.9 L229.9,362.4 L230.4,357.9 L230.9,353.5 L231.4,349.2 L231.9,345.0 L232.4,340.8 L232.9,336.7 L233.4,332.8 L233.9,328.8 L234.4,324.8 L234.9,320.8 L235.4,316.6 L235.9,312.1 L236.4,307.5 L236.9,302.9 L237.4,298.4 L237.9,294.1 L238.4,290.1 L238.9,286.6 L239.4,283.5 L239.9,280.5 L240.4,277.6 L240.9,275.1 L241.4,272.9 L241.9,271.3 L242.4,270.0 L242.9,268.9 L243.4,267.9 L243.9,267.2 L244.4,267.0 L244.9,267.2 L245.4,267.6 L245.9,268.3 L246.4,269.2 L246.9,270.3 L247.4,271.5 L247.9,272.7 L248.4,274.3 L248.9,276.6 L249.4,279.5 L249.9,282.8 L250.4,286.4 L250.9,290.1 L251.4,293.8 L251.9,297.3 L252.4,300.7 L252.9,304.1 L253.4,307.5 L253.9,311.0 L254.4,314.5 L254.9,318.1 L255.4,321.7 L255.9,325.3 L256.4,328.9 L256.9,332.6 L257.4,336.4 L257.9,340.2 L258.4,344.0 L258.9,347.7 L259.4,351.3 L259.9,354.8 L260.4,358.3 L260.9,361.8 L261.4,365.2 L261.9,368.6 L262.4,371.9 L262.9,375.2 L263.4,378.3 L263.9,381.4 L264.4,384.4 L264.9,387.4 L265.4,390.4 L265.9,393.4 L266.4,396.2 L266.9,398.9 L267.4,401.3 L267.9,403.6 L268.4,405.5 L268.9,407.2 L269.4,408.7 L269.9,410.2 L270.4,411.7 L270.9,413.3 L271.4,415.2 L271.9,417.4 L272.4,420.0 L272.9,423.3 L273.4,427.5 L273.9,432.9 L274.4,439.4 L274.9,445.4 L275.4,447.5 L275.9,449.2 L276.4,450.6 L276.9,451.8 L277.4,452.7 L277.9,453.4 L278.4,453.8 L278.9,454.0 L279.4,453.9 L279.9,453.4 L280.4,452.7 L280.9,451.7 L281.4,450.6 L281.9,449.3 L282.4,448.0 L282.9,446.7 L283.4,445.4 L283.9,444.2 L284.4,443.1 L284.9,441.9 L285.4,440.7 L285.9,439.5 L286.4,438.2 L286.9,436.9 L287.4,435.6 L287.9,434.4 L288.4,433.2 L288.9,432.1 L289.4,431.1 L289.9,430.2 L290.4,429.3 L290.9,428.5 L291.4,427.7 L291.9,426.9 L292.4,426.1 L292.9,425.4 L293.4,424.7 L293.9,424.0 L294.4,423.4 L294.9,422.8 L295.4,422.3 L295.9,421.8 L296.4,421.4 L296.9,421.1 L297.4,420.8 L297.9,420.5 L298.4,420.2 L298.9,419.9 L299.4,419.6 L299.9,419.4 L300.4,419.2 L300.9,419.0 L301.4,418.8 L301.9,418.7 L302.4,418.6 L302.9,418.6 L303.4,418.6 L303.9,418.7 L304.4,418.8 L304.9,419.0 L305.4,419.2 L305.9,419.4 L306.4,419.7 L306.9,420.0 L307.4,420.3 L307.9,420.6 L308.4,420.9 L308.9,421.3 L309.4,421.6 L309.9,421.9 L310.4,422.3 L310.9,422.6 L311.4,423.0 L311.9,423.4 L312.4,423.9 L312.9,424.3 L313.4,424.8 L313.9,425.3 L314.4,425.8 L314.9,426.4 L315.4,426.9 L315.9,427.5 L316.4,428.1 L316.9,428.7 L317.4,429.3 L317.9,429.9 L318.4,430.5 L318.9,431.2 L319.4,431.8 L319.9,432.5 L320.4,433.3 L320.9,434.0 L321.4,434.8 L321.9,435.6 L322.4,436.4 L322.9,437.3 L323.4,438.1 L323.9,439.0 L324.4,439.9 L324.9,440.9 L325.4,441.8 L325.9,442.8 L326.4,443.8 L326.9,444.9 L327.4,446.1 L327.9,447.3 L328.4,448.5 L328.9,449.8 L329.4,451.1 L329.9,452.4 L330.4,453.8 L330.9,455.1 L331.4,456.4 L331.9,457.7 L332.4,459.0 L332.9,460.4 L333.4,461.7 L333.9,463.1 L334.4,464.4 L334.9,465.8 L335.4,467.2 L335.9,468.5 L336.4,469.9 L336.9,471.2 L337.4,472.5 L337.9,473.8 L338.4,475.0 L338.9,476.2 L339.4,477.5 L339.9,478.7 L340.4,479.9 L340.9,481.1 L341.4,482.2 L341.9,483.4 L342.4,484.5 L342.9,485.6 L343.4,486.7 L343.9,487.8 L344.4,488.9 L344.9,490.1 L345.4,491.4 L345.9,492.6 L346.4,493.7 L346.9,494.6 L347.4,495.3 L347.9,495.6 L348.4,495.5 L348.9,495.2 L349.4,494.7 L349.9,494.1 L350.4,493.5 L350.9,492.6 L351.4,491.6 L351.9,490.4 L352.4,489.3 L352.9,488.2 L353.4,487.2 L353.9,486.2 L354.4,485.1 L354.9,484.1 L355.4,483.0 L355.9,482.0 L356.4,481.0 L356.9,480.0 L357.4,479.1 L357.9,478.2 L358.4,477.3 L358.9,476.5 L359.4,475.7 L359.9,474.9 L360.4,474.1 L360.9,473.3 L361.4,472.5 L361.9,471.8 L362.4,471.1 L362.9,470.4 L363.4,469.8 L363.9,469.1 L364.4,468.5 L364.9,467.8 L365.4,467.2 L365.9,466.5 L366.4,465.9 L366.9,465.3 L367.4,464.7 L367.9,464.3 L368.4,463.9 L368.9,463.6 L369.4,463.5 L369.9,463.3 L370.4,463.2 L370.9,463.0 L371.4,462.9 L371.9,462.8 L372.4,462.7 L372.9,462.7 L373.4,462.6 L373.9,462.6 L374.4,462.6 L374.9,462.7 L375.4,462.8 L375.9,462.9 L376.4,463.1 L376.9,463.2 L377.4,463.4 L377.9,463.7 L378.4,463.9 L378.9,464.1 L379.4,464.3 L379.9,464.6 L380.4,464.8 L380.9,465.0 L381.4,465.1 L381.9,465.3 L382.4,465.5 L382.9,465.7 L383.4,465.8 L383.9,466.0 L384.4,466.2 L384.9,466.3 L385.4,466.5 L385.9,466.7 L386.4,466.9 L386.9,467.1 L387.4,467.3 L387.9,467.5 L388.4,467.7 L388.9,468.0 L389.4,468.2 L389.9,468.5 L390.4,468.7 L390.9,469.0 L391.4,469.3 L391.9,469.6 L392.4,470.0 L392.9,470.3 L393.4,470.7 L393.9,471.1 L394.4,471.5 L394.9,471.9 L395.4,472.4 L395.9,472.9 L396.4,473.5 L396.9,474.1 L397.4,474.8 L397.9,475.5 L398.4,476.2 L398.9,476.9 L399.4,477.7 L399.9,478.4 L400.4,479.2 L400.9,479.9 L401.4,480.6 L401.9,481.3 L402.4,482.0 L402.9,482.8 L403.4,483.5 L403.9,484.3 L404.4,485.0 L404.9,485.8 L405.4,486.5 L405.9,487.2 L406.4,487.9 L406.9,488.6 L407.4,489.3 L407.9,489.9 L408.4,490.5 L408.9,491.1 L409.4,491.7 L409.9,492.3 L410.4,492.9 L410.9,493.5 L411.4,494.0 L411.9,494.5 L412.4,495.0 L412.9,495.4 L413.4,495.7 L413.9,496.0 L414.4,496.2 L414.9,496.3 L415.4,496.5 L415.9,496.7 L416.4,496.8 L416.9,496.9 L417.4,497.0 L417.9,497.0 L418.4,497.0 L418.9,496.9 L419.4,496.7 L419.9,496.4 L420.4,496.1 L420.9,495.7 L421.4,495.3 L421.9,494.9 L422.4,494.5 L422.9,494.1 L423.4,493.6 L423.9,493.1 L424.4,492.6 L424.9,491.9 L425.4,491.3 L425.9,490.6 L426.4,489.8 L426.9,489.1 L427.4,488.3 L427.9,487.6 L428.4,486.8 L428.9,486.1 L429.4,485.4 L429.9,484.7 L430.4,484.0 L430.9,483.3 L431.4,482.5 L431.9,481.8 L432.4,481.1 L432.9,480.3 L433.4,479.6 L433.9,478.9 L434.4,478.1 L434.9,477.5 L435.4,476.8 L435.9,476.1 L436.4,475.5 L436.9,474.8 L437.4,474.2 L437.9,473.5 L438.4,472.9 L438.9,472.2 L439.4,471.6 L439.9,471.0 L440.4,470.4 L440.9,469.8 L441.4,469.3 L441.9,468.9 L442.4,468.4 L442.9,468.1 L443.4,467.7 L443.9,467.4 L444.4,467.1 L444.9,466.8 L445.4,466.5 L445.9,466.2 L446.4,465.9 L446.9,465.6 L447.4,465.3 L447.9,465.1 L448.4,464.9 L448.9,464.7 L449.4,464.6 L449.9,464.5 L450.4,464.4 L450.9,464.4 L451.4,464.4 L451.9,464.5 L452.4,464.6 L452.9,464.8 L453.4,465.0 L453.9,465.2 L454.4,465.5 L454.9,465.8 L455.4,466.2 L455.9,466.5 L456.4,466.8 L456.9,467.2 L457.4,467.6 L457.9,467.9 L458.4,468.3 L458.9,468.7 L459.4,469.2 L459.9,469.7 L460.4,470.3 L460.9,470.9 L461.4,471.5 L461.9,472.1 L462.4,472.8 L462.9,473.4 L463.4,474.1 L463.9,474.7 L464.4,475.3 L464.9,475.9 L465.4,476.5 L465.9,477.0 L466.4,477.6 L466.9,478.2 L467.4,478.8 L467.9,479.4 L468.4,480.0 L468.9,480.5 L469.4,481.1 L469.9,481.7 L470.4,482.3 L470.9,482.8 L471.4,483.4 L471.9,483.9 L472.4,484.4 L472.9,484.9 L473.4,485.4 L473.9,485.9 L474.4,486.4 L474.9,486.9 L475.4,487.3 L475.9,487.8 L476.4,488.3 L476.9,488.7 L477.4,489.2 L477.9,489.6 L478.4,490.0 L478.9,490.3 L479.4,490.7 L479.9,490.9 L480.4,491.2 L480.9,491.5 L481.4,491.8 L481.9,492.0 L482.4,492.3 L482.9,492.5 L483.4,492.7 L483.9,492.9 L484.4,493.0 L484.9,493.0 L485.4,493.0 L485.9,492.9 L486.4,492.8 L486.9,492.7 L487.4,492.6 L487.9,492.4 L488.4,492.2 L488.9,492.0 L489.4,491.8 L489.9,491.5 L490.4,491.3 L490.9,491.0 L491.4,490.8 L491.9,490.5 L492.4,490.1 L492.9,489.7 L493.4,489.2 L493.9,488.7 L494.4,488.2 L494.9,487.6 L495.4,487.1 L495.9,486.5 L496.4,485.9 L496.9,485.3 L497.4,484.7 L497.9,484.2 L498.4,483.6 L498.9,483.1 L499.4,482.6 L499.9,482.1 L500.4,481.6 L500.9,481.0 L501.4,480.5 L501.9,479.9 L502.4,479.4 L502.9,478.9 L503.4,478.3 L503.9,477.8 L504.4,477.3 L504.9,476.8 L505.4,476.4 L505.9,475.9 L506.4,475.5 L506.9,475.1 L507.4,474.7 L507.9,474.3 L508.4,473.9 L508.9,473.5 L509.4,473.2 L509.9,472.8 L510.4,472.4 L510.9,472.1 L511.4,471.7 L511.9,471.4 L512.4,471.1 L512.9,470.9 L513.4,470.6 L513.9,470.4 L514.4,470.2 L514.9,470.0 L515.4,469.9 L515.9,469.8 L516.4,469.6 L516.9,469.5 L517.4,469.4 L517.9,469.3 L518.4,469.1 L518.9,469.0 L519.4,469.0 L519.9,468.9 L520.4,468.8 L520.9,468.7 L521.4,468.7 L521.9,468.6 L522.4,468.6 L522.9,468.6 L523.4,468.6 L523.9,468.7 L524.4,468.7 L524.9,468.8 L525.4,469.0 L525.9,469.1 L526.4,469.3 L526.9,469.5 L527.4,469.7 L527.9,470.0 L528.4,470.2 L528.9,470.4 L529.4,470.7 L529.9,470.9 L530.4,471.2 L530.9,471.5 L531.4,471.9 L531.9,472.3 L532.4,472.8 L532.9,473.2 L533.4,473.7 L533.9,474.3 L534.4,474.8 L534.9,475.4 L535.4,476.0 L535.9,476.6 L536.4,477.2 L536.9,477.9 L537.4,478.5 L537.9,479.2 L538.4,480.0 L538.9,480.8 L539.4,481.7 L539.9,482.6 L540.4,483.5 L540.9,484.4 L541.4,485.3 L541.9,486.2 L542.4,487.0 L542.9,487.8 L543.4,488.6 L543.9,489.4 L544.4,490.2 L544.9,491.0 L545.4,491.8 L545.9,492.6 L546.4,493.4 L546.9,494.2 L547.4,494.9 L547.9,495.6 L548.4,496.3 L548.9,496.9 L549.4,497.5 L549.9,498.1 L550.4,498.6 L550.9,499.2 L551.4,499.7 L551.9,500.2 L552.4,500.7 L552.9,501.2 L553.4,501.6 L553.9,501.9 L554.4,502.3 L554.9,502.6 L555.4,503.0 L555.9,503.3 L556.4,503.5 L556.9,503.8 L557.4,503.9 L557.9,504.0 L558.4,504.0 L558.9,503.9 L559.4,503.8 L559.9,503.6 L560.4,503.4 L560.9,503.1 L561.4,502.9 L561.9,502.6 L562.4,502.3 L562.9,502.1 L563.4,501.8 L563.9,501.4 L564.4,501.0 L564.9,500.6 L565.4,500.2 L565.9,499.7 L566.4,499.2 L566.9,498.8 L567.4,498.3 L567.9,497.9 L568.4,497.4 L568.9,497.1 L569.4,496.7 L569.9,496.4 L570.4,496.0 L570.9,495.7 L571.4,495.4 L571.9,495.0 L572.4,494.7 L572.9,494.4 L573.4,494.1 L573.9,493.9 L574.4,493.6 L574.9,493.4 L575.4,493.2 L575.9,493.0 L576.4,492.9 L576.9,492.7 L577.4,492.6 L577.9,492.4 L578.4,492.3 L578.9,492.2 L579.4,492.1 L579.9,492.0 L580.4,491.9 L580.9,491.8 L581.4,491.7 L581.9,491.6 L582.4,491.6 L582.9,491.6 L583.4,491.6 L583.9,491.6 L584.4,491.7 L584.9,491.8 L585.4,491.9 L585.9,492.0 L586.4,492.1 L586.9,492.2 L587.4,492.4 L587.9,492.5 L588.4,492.7 L588.9,492.9 L589.4,493.0 L589.9,493.2 L590.4,493.4 L590.9,493.6 L591.4,493.7 L591.9,493.9 L592.4,494.1 L592.9,494.4 L593.4,494.6 L593.9,494.9 L594.4,495.1 L594.9,495.4 L595.4,495.7 L595.9,496.0 L596.4,496.2 L596.9,496.5 L597.4,496.8 L597.9,497.1 L598.4,497.5 L598.9,497.8 L599.4,498.1 L599.9,498.4 L600.4,498.7 L600.9,498.9 L601.4,499.2 L601.9,499.5 L602.4,499.8 L602.9,500.1 L603.4,500.4 L603.9,500.7 L604.4,501.0 L604.9,501.4 L605.4,501.7 L605.9,502.0 L606.4,502.3 L606.9,502.6 L607.4,502.9 L607.9,503.2 L608.4,503.5 L608.9,503.8 L609.4,504.1 L609.9,504.4 L610.4,504.7 L610.9,504.9 L611.4,505.2 L611.9,505.5 L612.4,505.7 L612.9,506.0 L613.4,506.3 L613.9,506.5 L614.4,506.8 L614.9,507.0 L615.4,507.3 L615.9,507.5 L616.4,507.8 L616.9,508.0 L617.4,508.2 L617.9,508.5 L618.4,508.7 L618.9,508.9 L619.4,509.2 L619.9,509.4 L620.4,509.6" fill="none" stroke="#c4c4c4" stroke-width="1.1"/>
<g stroke="#1a1a1a" stroke-width="1.3" fill="none">
<path d="M116.4,79.3 L116.4,459.8" stroke="#1a1a1a" stroke-width="1.3"/>
<path d="M116.4,459.8 L116.4,487.5" stroke="#b4b4b4" stroke-width="1.0"/>
<path d="M116.4,487.5 L116.4,515.4" stroke="#1a1a1a" stroke-width="1.3"/>
<path d="M110.2,515.4 L620.4,515.4"/>
<path d="M110.2,79.3 L116.4,79.3"/>
<path d="M110.2,224.7 L116.4,224.7"/>
<path d="M110.2,370.0 L116.4,370.0"/>
<path d="M116.4,515.4 L116.4,521.6"/>
<path d="M242.4,515.4 L242.4,521.6"/>
<path d="M368.4,515.4 L368.4,521.6"/>
<path d="M494.4,515.4 L494.4,521.6"/>
<path d="M620.4,515.4 L620.4,521.6"/>
</g>
<path d="M116.4,429.6 L116.9,428.8 L117.4,428.0 L117.9,427.2 L118.4,426.3 L118.9,425.4 L119.4,424.4 L119.9,423.5 L120.4,422.4 L120.9,421.4 L121.4,420.3 L121.9,419.2 L122.4,418.1 L122.9,417.0 L123.4,415.8 L123.9,414.5 L124.4,413.3 L124.9,412.0 L125.4,410.8 L125.9,409.5 L126.4,408.2 L126.9,407.0 L127.4,405.8 L127.9,404.6 L128.4,403.4 L128.9,402.3 L129.4,401.2 L129.9,400.2 L130.4,399.2 L130.9,398.3 L131.4,397.4 L131.9,396.5 L132.4,395.6 L132.9,394.7 L133.4,393.9 L133.9,393.1 L134.4,392.3 L134.9,391.6 L135.4,390.8 L135.9,390.1 L136.4,389.5 L136.9,388.9 L137.4,388.3 L137.9,387.8 L138.4,387.2 L138.9,386.7 L139.4,386.3 L139.9,385.8 L140.4,385.3 L140.9,384.8 L141.4,384.3 L141.9,383.7 L142.4,383.2 L142.9,382.6 L143.4,381.9 L143.9,381.2 L144.4,380.4 L144.9,379.5 L145.4,378.5 L145.9,377.5 L146.4,376.4 L146.9,375.3 L147.4,374.0 L147.9,372.8 L148.4,371.5 L148.9,370.1 L149.4,368.7 L149.9,367.3 L150.4,365.8 L150.9,364.1 L151.4,362.3 L151.9,360.3 L152.4,358.3 L152.9,356.3 L153.4,354.2 L153.9,352.1 L154.4,350.0 L154.9,348.0 L155.4,346.1 L155.9,344.3 L156.4,342.6 L156.9,340.9 L157.4,339.2 L157.9,337.5 L158.4,335.9 L158.9,334.3 L159.4,332.8 L159.9,331.4 L160.4,330.2 L160.9,329.2 L161.4,328.3 L161.9,327.3 L162.4,326.4 L162.9,325.6 L163.4,325.0 L163.9,324.6 L164.4,324.4 L164.9,324.5 L165.4,324.9 L165.9,325.4 L166.4,326.1 L166.9,326.9 L167.4,327.8 L167.9,328.8 L168.4,330.0 L168.9,331.8 L169.4,334.2 L169.9,336.9 L170.4,339.8 L170.9,343.0 L171.4,346.2 L171.9,349.4 L172.4,352.6 L172.9,356.1 L173.4,359.9 L173.9,363.8 L174.4,367.8 L174.9,371.8 L175.4,375.6 L175.9,379.3 L176.4,382.8 L176.9,386.3 L177.4,389.9 L177.9,393.3 L178.4,396.7 L178.9,399.8 L179.4,402.8 L179.9,405.5 L180.4,408.0 L180.9,410.4 L181.4,412.8 L181.9,415.0 L182.4,417.1 L182.9,418.9 L183.4,420.5 L183.9,421.8 L184.4,422.8 L184.9,423.8 L185.4,424.7 L185.9,425.6 L186.4,426.2 L186.9,426.7 L187.4,427.0 L187.9,426.9 L188.4,426.6 L188.9,426.0 L189.4,425.2 L189.9,424.3 L190.4,423.3 L190.9,422.2 L191.4,421.0 L191.9,419.5 L192.4,417.7 L192.9,415.7 L193.4,413.5 L193.9,411.2 L194.4,408.8 L194.9,406.5 L195.4,404.1 L195.9,401.5 L196.4,398.8 L196.9,395.9 L197.4,393.0 L197.9,390.0 L198.4,387.1 L198.9,384.1 L199.4,381.3 L199.9,378.5 L200.4,375.9 L200.9,373.2 L201.4,370.4 L201.9,367.8 L202.4,365.2 L202.9,362.7 L203.4,360.4 L203.9,358.4 L204.4,356.5 L204.9,354.8 L205.4,353.2 L205.9,351.7 L206.4,350.2 L206.9,348.8 L207.4,347.5 L207.9,346.2 L208.4,345.0 L208.9,343.9 L209.4,342.8 L209.9,341.8 L210.4,340.7 L210.9,339.8 L211.4,338.8 L211.9,337.8 L212.4,336.9 L212.9,335.9 L213.4,334.8 L213.9,333.7 L214.4,332.6 L214.9,331.5 L215.4,330.3 L215.9,329.2 L216.4,328.0 L216.9,326.9 L217.4,325.6 L217.9,324.4 L218.4,323.1 L218.9,321.7 L219.4,320.3 L219.9,318.8 L220.4,317.1 L220.9,315.4 L221.4,313.6 L221.9,311.7 L222.4,309.7 L222.9,307.8 L223.4,305.9 L223.9,304.0 L224.4,302.1 L224.9,300.3 L225.4,298.6 L225.9,296.8 L226.4,295.0 L226.9,293.2 L227.4,291.5 L227.9,289.8 L228.4,288.2 L228.9,286.7 L229.4,285.4 L229.9,284.2 L230.4,283.2 L230.9,282.1 L231.4,281.1 L231.9,280.1 L232.4,279.2 L232.9,278.4 L233.4,277.7 L233.9,277.1 L234.4,276.8 L234.9,276.6 L235.4,276.7 L235.9,277.0 L236.4,277.4 L236.9,278.1 L237.4,278.8 L237.9,279.7 L238.4,280.7 L238.9,281.8 L239.4,283.1 L239.9,285.1 L240.4,287.6 L240.9,290.5 L241.4,293.8 L241.9,297.2 L242.4,300.8 L242.9,304.3 L243.4,307.9 L243.9,311.9 L244.4,316.1 L244.9,320.5 L245.4,324.9 L245.9,329.2 L246.4,333.2 L246.9,337.2 L247.4,341.2 L247.9,345.1 L248.4,349.1 L248.9,353.2 L249.4,357.4 L249.9,361.8 L250.4,366.2 L250.9,370.7 L251.4,375.0 L251.9,379.2 L252.4,383.1 L252.9,386.9 L253.4,390.6 L253.9,394.2 L254.4,397.7 L254.9,401.3 L255.4,404.9 L255.9,408.6 L256.4,412.2 L256.9,415.4 L257.4,418.2 L257.9,420.9 L258.4,423.4 L258.9,425.7 L259.4,427.8 L259.9,429.7 L260.4,431.3 L260.9,432.9 L261.4,434.4 L261.9,435.7 L262.4,437.0 L262.9,438.1 L263.4,439.1 L263.9,439.9 L264.4,440.5 L264.9,441.0 L265.4,441.5 L265.9,441.9 L266.4,442.3 L266.9,442.6 L267.4,443.0 L267.9,443.3 L268.4,443.7 L268.9,444.0 L269.4,444.4 L269.9,444.9 L270.4,445.4 L270.9,445.9 L271.4,446.5 L271.9,447.1 L272.4,447.7 L272.9,448.4 L273.4,449.1 L273.9,449.8 L274.4,450.7 L274.9,451.7 L275.4,452.8 L275.9,454.0 L276.4,455.3 L276.9,456.6 L277.4,457.9 L277.9,459.2 L278.4,460.5 L278.9,461.8 L279.4,463.0 L279.9,464.2 L280.4,465.5 L280.9,466.7 L281.4,468.0 L281.9,469.2 L282.4,470.4 L282.9,471.6 L283.4,472.7 L283.9,473.8 L284.4,474.8 L284.9,475.9 L285.4,476.9 L285.9,478.0 L286.4,479.0 L286.9,480.0 L287.4,480.8 L287.9,481.6 L288.4,482.3 L288.9,482.9 L289.4,483.4 L289.9,483.9 L290.4,484.3 L290.9,484.7 L291.4,485.1 L291.9,485.5 L292.4,485.7 L292.9,485.9 L293.4,486.0 L293.9,486.0 L294.4,485.9 L294.9,485.7 L295.4,485.4 L295.9,485.0 L296.4,484.6 L296.9,484.1 L297.4,483.7 L297.9,483.1 L298.4,482.6 L298.9,482.1 L299.4,481.6 L299.9,480.9 L300.4,480.2 L300.9,479.4 L301.4,478.6 L301.9,477.7 L302.4,476.7 L302.9,475.8 L303.4,474.8 L303.9,473.8 L304.4,472.9 L304.9,471.9 L305.4,471.0 L305.9,470.2 L306.4,469.3 L306.9,468.5 L307.4,467.6 L307.9,466.7 L308.4,465.8 L308.9,464.9 L309.4,464.0 L309.9,463.2 L310.4,462.4 L310.9,461.6 L311.4,460.9 L311.9,460.2 L312.4,459.6 L312.9,459.1 L313.4,458.6 L313.9,458.2 L314.4,457.7 L314.9,457.2 L315.4,456.8 L315.9,456.4 L316.4,456.0 L316.9,455.6 L317.4,455.3 L317.9,455.0 L318.4,454.7 L318.9,454.6 L319.4,454.5 L319.9,454.4 L320.4,454.4 L320.9,454.5 L321.4,454.6 L321.9,454.7 L322.4,454.8 L322.9,455.0 L323.4,455.2 L323.9,455.4 L324.4,455.6 L324.9,455.9 L325.4,456.1 L325.9,456.4 L326.4,456.7 L326.9,456.9 L327.4,457.2 L327.9,457.6 L328.4,457.9 L328.9,458.3 L329.4,458.8 L329.9,459.2 L330.4,459.7 L330.9,460.2 L331.4,460.8 L331.9,461.3 L332.4,461.9 L332.9,462.5 L333.4,463.0 L333.9,463.6 L334.4,464.2 L334.9,464.8 L335.4,465.3 L335.9,465.9 L336.4,466.4 L336.9,467.0 L337.4,467.6 L337.9,468.2 L338.4,468.8 L338.9,469.4 L339.4,470.1 L339.9,470.7 L340.4,471.4 L340.9,472.0 L341.4,472.6 L341.9,473.3 L342.4,473.9 L342.9,474.5 L343.4,475.1 L343.9,475.7 L344.4,476.3 L344.9,476.9 L345.4,477.4 L345.9,477.9 L346.4,478.4 L346.9,478.9 L347.4,479.4 L347.9,479.9 L348.4,480.4 L348.9,480.9 L349.4,481.3 L349.9,481.8 L350.4,482.2 L350.9,482.6 L351.4,483.0 L351.9,483.3 L352.4,483.7 L352.9,483.9 L353.4,484.2 L353.9,484.5 L354.4,484.7 L354.9,484.9 L355.4,485.1 L355.9,485.3 L356.4,485.5 L356.9,485.7 L357.4,485.9 L357.9,486.0 L358.4,486.2 L358.9,486.3 L359.4,486.5 L359.9,486.6 L360.4,486.7 L360.9,486.8 L361.4,486.9 L361.9,486.9 L362.4,487.0 L362.9,487.1 L363.4,487.2 L363.9,487.2 L364.4,487.3 L364.9,487.4 L365.4,487.5 L365.9,487.5 L366.4,487.6 L366.9,487.7 L367.4,487.8 L367.9,487.8 L368.4,487.9 L368.9,488.0 L369.4,488.1 L369.9,488.2 L370.4,488.2 L370.9,488.3 L371.4,488.5 L371.9,488.6 L372.4,488.7 L372.9,488.9 L373.4,489.1 L373.9,489.3 L374.4,489.5 L374.9,489.7 L375.4,490.0 L375.9,490.3 L376.4,490.5 L376.9,490.8 L377.4,491.1 L377.9,491.4 L378.4,491.7 L378.9,491.9 L379.4,492.2 L379.9,492.5 L380.4,492.9 L380.9,493.2 L381.4,493.5 L381.9,493.9 L382.4,494.2 L382.9,494.6 L383.4,495.0 L383.9,495.3 L384.4,495.6 L384.9,495.9 L385.4,496.2 L385.9,496.5 L386.4,496.8 L386.9,497.0 L387.4,497.1 L387.9,497.3 L388.4,497.5 L388.9,497.7 L389.4,497.9 L389.9,498.0 L390.4,498.2 L390.9,498.3 L391.4,498.4 L391.9,498.5 L392.4,498.6 L392.9,498.6 L393.4,498.6 L393.9,498.5 L394.4,498.5 L394.9,498.4 L395.4,498.3 L395.9,498.1 L396.4,498.0 L396.9,497.8 L397.4,497.6 L397.9,497.4 L398.4,497.2 L398.9,497.0 L399.4,496.8 L399.9,496.6 L400.4,496.2 L400.9,495.9 L401.4,495.5 L401.9,495.1 L402.4,494.7 L402.9,494.2 L403.4,493.8 L403.9,493.3 L404.4,492.9 L404.9,492.4 L405.4,492.0 L405.9,491.7 L406.4,491.3 L406.9,491.1 L407.4,490.8 L407.9,490.5 L408.4,490.3 L408.9,490.0 L409.4,489.8 L409.9,489.5 L410.4,489.3 L410.9,489.0 L411.4,488.8 L411.9,488.6 L412.4,488.5 L412.9,488.3 L413.4,488.2 L413.9,488.1 L414.4,488.0 L414.9,488.0 L415.4,488.0 L415.9,488.1 L416.4,488.2 L416.9,488.3 L417.4,488.5 L417.9,488.8 L418.4,489.0 L418.9,489.3 L419.4,489.5 L419.9,489.8 L420.4,490.1 L420.9,490.4 L421.4,490.7 L421.9,490.9 L422.4,491.2 L422.9,491.5 L423.4,491.9 L423.9,492.2 L424.4,492.6 L424.9,493.0 L425.4,493.4 L425.9,493.8 L426.4,494.1 L426.9,494.5 L427.4,494.8 L427.9,495.1 L428.4,495.4 L428.9,495.6 L429.4,495.7 L429.9,495.9 L430.4,496.1 L430.9,496.2 L431.4,496.4 L431.9,496.5 L432.4,496.7 L432.9,496.8 L433.4,496.9 L433.9,496.9 L434.4,497.0 L434.9,497.0 L435.4,497.0 L435.9,496.9 L436.4,496.7 L436.9,496.4 L437.4,496.1 L437.9,495.8 L438.4,495.4 L438.9,495.0 L439.4,494.5 L439.9,494.1 L440.4,493.6 L440.9,493.0 L441.4,492.3 L441.9,491.6 L442.4,490.7 L442.9,489.9 L443.4,488.9 L443.9,488.0 L444.4,487.1 L444.9,486.2 L445.4,485.3 L445.9,484.3 L446.4,483.4 L446.9,482.4 L447.4,481.3 L447.9,480.3 L448.4,479.3 L448.9,478.2 L449.4,477.2 L449.9,476.2 L450.4,475.2 L450.9,474.2 L451.4,473.2 L451.9,472.2 L452.4,471.2 L452.9,470.1 L453.4,469.1 L453.9,468.0 L454.4,467.0 L454.9,466.1 L455.4,465.2 L455.9,464.4 L456.4,463.7 L456.9,463.1 L457.4,462.6 L457.9,462.1 L458.4,461.7 L458.9,461.2 L459.4,460.8 L459.9,460.5 L460.4,460.1 L460.9,459.9 L461.4,459.6 L461.9,459.4 L462.4,459.3 L462.9,459.1 L463.4,459.0 L463.9,458.9 L464.4,458.8 L464.9,458.7 L465.4,458.6 L465.9,458.6 L466.4,458.6 L466.9,458.7 L467.4,458.8 L467.9,459.0 L468.4,459.2 L468.9,459.4 L469.4,459.7 L469.9,460.0 L470.4,460.3 L470.9,460.5 L471.4,460.8 L471.9,461.2 L472.4,461.6 L472.9,462.0 L473.4,462.5 L473.9,463.0 L474.4,463.6 L474.9,464.1 L475.4,464.7 L475.9,465.3 L476.4,465.9 L476.9,466.5 L477.4,467.1 L477.9,467.7 L478.4,468.3 L478.9,468.9 L479.4,469.5 L479.9,470.0 L480.4,470.6 L480.9,471.2 L481.4,471.8 L481.9,472.4 L482.4,473.0 L482.9,473.6 L483.4,474.2 L483.9,474.8 L484.4,475.5 L484.9,476.1 L485.4,476.7 L485.9,477.3 L486.4,477.9 L486.9,478.5 L487.4,479.1 L487.9,479.7 L488.4,480.3 L488.9,480.9 L489.4,481.5 L489.9,482.0 L490.4,482.6 L490.9,483.2 L491.4,483.8 L491.9,484.4 L492.4,485.0 L492.9,485.6 L493.4,486.1 L493.9,486.7 L494.4,487.3 L494.9,487.8 L495.4,488.4 L495.9,488.9 L496.4,489.5 L496.9,490.0 L497.4,490.5 L497.9,491.0 L498.4,491.5 L498.9,491.9 L499.4,492.4 L499.9,492.8 L500.4,493.3 L500.9,493.7 L501.4,494.2 L501.9,494.6 L502.4,495.0 L502.9,495.5 L503.4,495.9 L503.9,496.2 L504.4,496.6 L504.9,496.9 L505.4,497.2 L505.9,497.5 L506.4,497.8 L506.9,498.0 L507.4,498.1 L507.9,498.3 L508.4,498.5 L508.9,498.6 L509.4,498.8 L509.9,498.9 L510.4,499.1 L510.9,499.2 L511.4,499.3 L511.9,499.4 L512.4,499.5 L512.9,499.5 L513.4,499.6 L513.9,499.6 L514.4,499.6 L514.9,499.6 L515.4,499.5 L515.9,499.4 L516.4,499.3 L516.9,499.2 L517.4,499.1 L517.9,499.0 L518.4,498.8 L518.9,498.7 L519.4,498.5 L519.9,498.4 L520.4,498.2 L520.9,498.0 L521.4,497.9 L521.9,497.7 L522.4,497.4 L522.9,497.2 L523.4,496.9 L523.9,496.6 L524.4,496.3 L524.9,496.0 L525.4,495.6 L525.9,495.3 L526.4,494.9 L526.9,494.6 L527.4,494.2 L527.9,493.8 L528.4,493.4 L528.9,493.1 L529.4,492.7 L529.9,492.3 L530.4,491.9 L530.9,491.5 L531.4,491.0 L531.9,490.6 L532.4,490.1 L532.9,489.7 L533.4,489.2 L533.9,488.8 L534.4,488.3 L534.9,487.8 L535.4,487.4 L535.9,486.9 L536.4,486.5 L536.9,486.1 L537.4,485.7 L537.9,485.2 L538.4,484.8 L538.9,484.4 L539.4,483.9 L539.9,483.5 L540.4,483.0 L540.9,482.6 L541.4,482.2 L541.9,481.8 L542.4,481.5 L542.9,481.2 L543.4,480.9 L543.9,480.6 L544.4,480.4 L544.9,480.2 L545.4,480.0 L545.9,479.8 L546.4,479.6 L546.9,479.4 L547.4,479.2 L547.9,479.1 L548.4,479.0 L548.9,478.9 L549.4,478.8 L549.9,478.8 L550.4,478.8 L550.9,478.8 L551.4,478.8 L551.9,478.9 L552.4,478.9 L552.9,478.9 L553.4,479.0 L553.9,479.0 L554.4,479.1 L554.9,479.1 L555.4,479.2 L555.9,479.2 L556.4,479.3 L556.9,479.3 L557.4,479.4 L557.9,479.4 L558.4,479.5 L558.9,479.5 L559.4,479.6 L559.9,479.6 L560.4,479.6 L560.9,479.6 L561.4,479.6 L561.9,479.6 L562.4,479.5 L562.9,479.4 L563.4,479.3 L563.9,479.2 L564.4,479.1 L564.9,479.0 L565.4,478.8 L565.9,478.7 L566.4,478.6 L566.9,478.4 L567.4,478.3 L567.9,478.2 L568.4,478.1 L568.9,478.0 L569.4,477.9 L569.9,477.9 L570.4,477.8 L570.9,477.7 L571.4,477.6 L571.9,477.6 L572.4,477.5 L572.9,477.4 L573.4,477.4 L573.9,477.4 L574.4,477.4 L574.9,477.5 L575.4,477.6 L575.9,477.7 L576.4,477.9 L576.9,478.1 L577.4,478.3 L577.9,478.5 L578.4,478.8 L578.9,479.0 L579.4,479.3 L579.9,479.5 L580.4,479.8 L580.9,480.1 L581.4,480.5 L581.9,480.9 L582.4,481.3 L582.9,481.8 L583.4,482.3 L583.9,482.8 L584.4,483.3 L584.9,483.8 L585.4,484.4 L585.9,484.9 L586.4,485.4 L586.9,485.9 L587.4,486.4 L587.9,486.9 L588.4,487.5 L588.9,488.0 L589.4,488.6 L589.9,489.2 L590.4,489.8 L590.9,490.4 L591.4,491.0 L591.9,491.5 L592.4,492.1 L592.9,492.6 L593.4,493.1 L593.9,493.5 L594.4,494.0 L594.9,494.3 L595.4,494.7 L595.9,495.0 L596.4,495.3 L596.9,495.7 L597.4,496.0 L597.9,496.3 L598.4,496.6 L598.9,496.9 L599.4,497.1 L599.9,497.3 L600.4,497.5 L600.9,497.7 L601.4,497.9 L601.9,498.0 L602.4,498.1 L602.9,498.2 L603.4,498.3 L603.9,498.3 L604.4,498.4 L604.9,498.5 L605.4,498.6 L605.9,498.6 L606.4,498.7 L606.9,498.7 L607.4,498.7 L607.9,498.8 L608.4,498.8 L608.9,498.8 L609.4,498.8 L609.9,498.8 L610.4,498.8 L610.9,498.8 L611.4,498.8 L611.9,498.8 L612.4,498.8 L612.9,498.8 L613.4,498.8 L613.9,498.8 L614.4,498.8 L614.9,498.8 L615.4,498.8 L615.9,498.8 L616.4,498.7 L616.9,498.7 L617.4,498.7 L617.9,498.7 L618.4,498.7 L618.9,498.7 L619.4,498.6 L619.9,498.6 L620.4,498.6" fill="none" stroke="#000" stroke-width="3.7" stroke-linejoin="round" stroke-linecap="butt"/>
<text x="96.9" y="89.1" font-size="27.5" text-anchor="end">0.6</text>
<text x="96.9" y="234.5" font-size="27.5" text-anchor="end">0.4</text>
<text x="96.9" y="379.8" font-size="27.5" text-anchor="end">0.2</text>
<text x="96.9" y="525.2" font-size="27.5" text-anchor="end">0.0</text>
<text x="116.2" y="559.8" font-size="27.5" text-anchor="middle">0.0</text>
<text x="242.2" y="559.8" font-size="27.5" text-anchor="middle">0.5</text>
<text x="368.2" y="559.8" font-size="27.5" text-anchor="middle">1.0</text>
<text x="494.2" y="559.8" font-size="27.5" text-anchor="middle">1.5</text>
<text x="620.2" y="559.8" font-size="27.5" text-anchor="middle">2.0</text>
<text x="369.4" y="612.4" font-size="34.3" text-anchor="middle">Frequency (Hz)</text>
<text transform="translate(36.6,296.5) rotate(-90)" font-size="34.5" text-anchor="middle">Norm. Amp. (10<tspan dy="-3">*</tspan><tspan font-size="22" dy="-14.5">-2</tspan><tspan dy="17.5">)</tspan></text>
<text x="370.4" y="31.2" font-size="34.9" font-weight="bold" text-anchor="middle">ER</text>
<rect x="397.3" y="171.8" width="65.4" height="23.2" fill="#b5b5b5"/>
<rect x="397.7" y="206.4" width="63.5" height="23.5" fill="#fff" stroke="#0a0a0a" stroke-width="1.6"/>
<text x="481.4" y="192.8" font-size="30.8">Pre-test</text>
<text x="481.4" y="229.2" font-size="30.8">Post-test</text>
<text transform="translate(135.1,303.7) scale(0.85,1)" font-size="27.5" fill="#000">P</text>
<text x="150.3" y="303.7" font-size="18.2" fill="#000" textLength="48.6" lengthAdjust="spacingAndGlyphs">0.2HZ</text>
<text transform="translate(214.2,253.0) scale(0.85,1)" font-size="27.5" fill="#000">P</text>
<text x="229.2" y="253.0" font-size="18.2" fill="#000" textLength="46.7" lengthAdjust="spacingAndGlyphs">0.5Hz</text>
</g>
<g id="right">
<path d="M781.3,415.0 L781.8,414.7 L782.3,414.4 L782.8,414.1 L783.3,413.8 L783.8,413.4 L784.3,413.0 L784.8,412.7 L785.3,412.3 L785.8,411.9 L786.3,411.5 L786.8,411.0 L787.3,410.6 L787.8,410.1 L788.3,409.7 L788.8,409.2 L789.3,408.7 L789.8,408.2 L790.3,407.7 L790.8,407.2 L791.3,406.6 L791.8,406.1 L792.3,405.5 L792.8,404.9 L793.3,404.3 L793.8,403.6 L794.3,403.0 L794.8,402.3 L795.3,401.6 L795.8,400.9 L796.3,400.1 L796.8,399.3 L797.3,398.5 L797.8,397.6 L798.3,396.7 L798.8,395.7 L799.3,394.7 L799.8,393.6 L800.3,392.5 L800.8,391.4 L801.3,390.2 L801.8,389.0 L802.3,387.8 L802.8,386.5 L803.3,385.3 L803.8,384.0 L804.3,382.8 L804.8,381.5 L805.3,380.2 L805.8,379.0 L806.3,377.6 L806.8,376.3 L807.3,374.9 L807.8,373.5 L808.3,372.1 L808.8,370.7 L809.3,369.2 L809.8,367.7 L810.3,366.2 L810.8,364.6 L811.3,363.0 L811.8,361.3 L812.3,359.5 L812.8,357.7 L813.3,355.8 L813.8,354.0 L814.3,352.3 L814.8,350.6 L815.3,349.1 L815.8,347.7 L816.3,346.4 L816.8,345.1 L817.3,343.8 L817.8,342.5 L818.3,341.2 L818.8,339.7 L819.3,338.3 L819.8,336.8 L820.3,335.5 L820.8,334.4 L821.3,333.4 L821.8,332.5 L822.3,331.5 L822.8,330.7 L823.3,329.9 L823.8,329.4 L824.3,329.1 L824.8,329.0 L825.3,329.3 L825.8,329.9 L826.3,330.7 L826.8,331.6 L827.3,332.6 L827.8,333.6 L828.3,334.6 L828.8,335.8 L829.3,337.1 L829.8,338.5 L830.3,340.0 L830.8,341.4 L831.3,342.9 L831.8,344.4 L832.3,345.9 L832.8,347.5 L833.3,349.2 L833.8,350.8 L834.3,352.3 L834.8,353.9 L835.3,355.4 L835.8,356.9 L836.3,358.4 L836.8,359.9 L837.3,361.4 L837.8,362.8 L838.3,364.2 L838.8,365.5 L839.3,366.8 L839.8,368.1 L840.3,369.4 L840.8,370.8 L841.3,372.1 L841.8,373.3 L842.3,374.4 L842.8,375.4 L843.3,376.2 L843.8,376.8 L844.3,377.2 L844.8,377.6 L845.3,378.0 L845.8,378.2 L846.3,378.4 L846.8,378.4 L847.3,378.2 L847.8,378.0 L848.3,377.6 L848.8,377.2 L849.3,376.7 L849.8,376.2 L850.3,375.7 L850.8,375.1 L851.3,374.3 L851.8,373.5 L852.3,372.7 L852.8,371.8 L853.3,371.0 L853.8,370.3 L854.3,369.6 L854.8,368.9 L855.3,368.2 L855.8,367.4 L856.3,366.7 L856.8,366.1 L857.3,365.5 L857.8,365.0 L858.3,364.7 L858.8,364.5 L859.3,364.5 L859.8,364.8 L860.3,365.1 L860.8,365.7 L861.3,366.3 L861.8,367.1 L862.3,367.9 L862.8,368.8 L863.3,369.7 L863.8,370.6 L864.3,371.6 L864.8,372.7 L865.3,373.9 L865.8,375.2 L866.3,376.7 L866.8,378.2 L867.3,379.8 L867.8,381.4 L868.3,382.9 L868.8,384.4 L869.3,385.9 L869.8,387.3 L870.3,388.8 L870.8,390.3 L871.3,391.8 L871.8,393.3 L872.3,394.8 L872.8,396.3 L873.3,397.9 L873.8,399.4 L874.3,400.9 L874.8,402.4 L875.3,403.9 L875.8,405.5 L876.3,407.0 L876.8,408.6 L877.3,410.2 L877.8,411.8 L878.3,413.4 L878.8,414.9 L879.3,416.4 L879.8,417.9 L880.3,419.2 L880.8,420.5 L881.3,421.7 L881.8,422.9 L882.3,424.1 L882.8,425.2 L883.3,426.3 L883.8,427.4 L884.3,428.3 L884.8,429.2 L885.3,430.0 L885.8,430.8 L886.3,431.4 L886.8,432.0 L887.3,432.6 L887.8,433.1 L888.3,433.6 L888.8,434.0 L889.3,434.3 L889.8,434.5 L890.3,434.5 L890.8,434.2 L891.3,433.7 L891.8,433.1 L892.3,432.3 L892.8,431.4 L893.3,430.4 L893.8,429.4 L894.3,428.3 L894.8,426.9 L895.3,425.2 L895.8,423.2 L896.3,421.1 L896.8,418.8 L897.3,416.4 L897.8,414.0 L898.3,411.5 L898.8,408.9 L899.3,406.1 L899.8,403.2 L900.3,400.1 L900.8,397.0 L901.3,393.7 L901.8,390.4 L902.3,386.9 L902.8,383.2 L903.3,379.3 L903.8,375.3 L904.3,371.3 L904.8,367.5 L905.3,363.8 L905.8,360.3 L906.3,356.9 L906.8,353.4 L907.3,349.8 L907.8,346.2 L908.3,342.5 L908.8,338.9 L909.3,335.2 L909.8,331.5 L910.3,327.8 L910.8,324.0 L911.3,320.1 L911.8,316.3 L912.3,312.7 L912.8,309.3 L913.3,306.2 L913.8,303.1 L914.3,300.2 L914.8,297.5 L915.3,295.0 L915.8,292.8 L916.3,290.8 L916.8,288.8 L917.3,286.9 L917.8,285.0 L918.3,283.3 L918.8,281.9 L919.3,281.0 L919.8,280.4 L920.3,280.5 L920.8,280.8 L921.3,281.4 L921.8,282.3 L922.3,283.3 L922.8,284.6 L923.3,285.9 L923.8,287.4 L924.3,289.1 L924.8,291.7 L925.3,295.0 L925.8,298.7 L926.3,302.6 L926.8,306.5 L927.3,310.2 L927.8,314.1 L928.3,318.1 L928.8,322.2 L929.3,326.3 L929.8,330.4 L930.3,334.4 L930.8,338.6 L931.3,342.9 L931.8,347.0 L932.3,351.0 L932.8,354.7 L933.3,357.8 L933.8,360.4 L934.3,363.3 L934.8,367.5 L935.3,372.9 L935.8,378.7 L936.3,384.4 L936.8,390.2 L937.3,396.1 L937.8,402.0 L938.3,407.7 L938.8,413.1 L939.3,418.5 L939.8,423.8 L940.3,428.8 L940.8,433.3 L941.3,437.4 L941.8,441.1 L942.3,444.6 L942.8,447.9 L943.3,451.0 L943.8,453.9 L944.3,456.6 L944.8,459.3 L945.3,461.8 L945.8,464.2 L946.3,466.4 L946.8,468.3 L947.3,470.0 L947.8,471.6 L948.3,473.1 L948.8,474.5 L949.3,475.8 L949.8,477.0 L950.3,478.0 L950.8,478.8 L951.3,479.3 L951.8,479.9 L952.3,480.3 L952.8,480.6 L953.3,480.5 L953.8,480.2 L954.3,479.7 L954.8,479.0 L955.3,478.2 L955.8,477.3 L956.3,476.4 L956.8,475.1 L957.3,473.6 L957.8,471.9 L958.3,470.2 L958.8,468.6 L959.3,467.1 L959.8,465.7 L960.3,464.4 L960.8,463.0 L961.3,461.6 L961.8,460.3 L962.3,458.9 L962.8,457.5 L963.3,456.2 L963.8,454.7 L964.3,453.1 L964.8,451.6 L965.3,450.1 L965.8,448.7 L966.3,447.4 L966.8,446.4 L967.3,445.5 L967.8,444.7 L968.3,443.9 L968.8,443.2 L969.3,442.6 L969.8,442.0 L970.3,441.4 L970.8,440.9 L971.3,440.5 L971.8,440.1 L972.3,439.8 L972.8,439.5 L973.3,439.2 L973.8,438.9 L974.3,438.7 L974.8,438.4 L975.3,438.2 L975.8,438.0 L976.3,437.9 L976.8,437.7 L977.3,437.6 L977.8,437.6 L978.3,437.6 L978.8,437.6 L979.3,437.7 L979.8,437.8 L980.3,437.8 L980.8,437.9 L981.3,438.1 L981.8,438.2 L982.3,438.3 L982.8,438.4 L983.3,438.6 L983.8,438.7 L984.3,438.8 L984.8,439.0 L985.3,439.1 L985.8,439.2 L986.3,439.3 L986.8,439.4 L987.3,439.5 L987.8,439.6 L988.3,439.7 L988.8,439.8 L989.3,439.9 L989.8,440.0 L990.3,440.2 L990.8,440.3 L991.3,440.4 L991.8,440.6 L992.3,440.8 L992.8,440.9 L993.3,441.1 L993.8,441.3 L994.3,441.6 L994.8,441.8 L995.3,442.1 L995.8,442.5 L996.3,442.8 L996.8,443.2 L997.3,443.5 L997.8,444.0 L998.3,444.4 L998.8,444.8 L999.3,445.3 L999.8,445.8 L1000.3,446.4 L1000.8,447.0 L1001.3,447.7 L1001.8,448.4 L1002.3,449.2 L1002.8,450.0 L1003.3,450.8 L1003.8,451.6 L1004.3,452.6 L1004.8,453.6 L1005.3,454.6 L1005.8,455.8 L1006.3,457.0 L1006.8,458.3 L1007.3,459.6 L1007.8,460.9 L1008.3,462.2 L1008.8,463.5 L1009.3,464.8 L1009.8,466.1 L1010.3,467.4 L1010.8,468.8 L1011.3,470.2 L1011.8,471.5 L1012.3,472.9 L1012.8,474.2 L1013.3,475.4 L1013.8,476.6 L1014.3,477.6 L1014.8,478.7 L1015.3,479.8 L1015.8,480.8 L1016.3,481.8 L1016.8,482.8 L1017.3,483.7 L1017.8,484.5 L1018.3,485.2 L1018.8,485.8 L1019.3,486.3 L1019.8,486.8 L1020.3,487.3 L1020.8,487.7 L1021.3,488.2 L1021.8,488.5 L1022.3,488.9 L1022.8,489.1 L1023.3,489.3 L1023.8,489.4 L1024.3,489.4 L1024.8,489.3 L1025.3,489.0 L1025.8,488.8 L1026.3,488.4 L1026.8,488.0 L1027.3,487.6 L1027.8,487.1 L1028.3,486.6 L1028.8,486.2 L1029.3,485.7 L1029.8,485.2 L1030.3,484.6 L1030.8,483.9 L1031.3,483.2 L1031.8,482.4 L1032.3,481.7 L1032.8,480.9 L1033.3,480.2 L1033.8,479.5 L1034.3,478.8 L1034.8,478.2 L1035.3,477.6 L1035.8,477.2 L1036.3,476.8 L1036.8,476.4 L1037.3,476.0 L1037.8,475.7 L1038.3,475.3 L1038.8,475.0 L1039.3,474.7 L1039.8,474.4 L1040.3,474.1 L1040.8,473.9 L1041.3,473.7 L1041.8,473.6 L1042.3,473.5 L1042.8,473.4 L1043.3,473.4 L1043.8,473.5 L1044.3,473.7 L1044.8,473.9 L1045.3,474.1 L1045.8,474.5 L1046.3,474.8 L1046.8,475.2 L1047.3,475.6 L1047.8,476.0 L1048.3,476.4 L1048.8,476.8 L1049.3,477.3 L1049.8,477.7 L1050.3,478.3 L1050.8,478.9 L1051.3,479.5 L1051.8,480.2 L1052.3,480.9 L1052.8,481.7 L1053.3,482.4 L1053.8,483.1 L1054.3,483.8 L1054.8,484.5 L1055.3,485.2 L1055.8,485.8 L1056.3,486.3 L1056.8,486.9 L1057.3,487.5 L1057.8,488.1 L1058.3,488.6 L1058.8,489.2 L1059.3,489.7 L1059.8,490.3 L1060.3,490.8 L1060.8,491.3 L1061.3,491.7 L1061.8,492.2 L1062.3,492.5 L1062.8,492.9 L1063.3,493.2 L1063.8,493.5 L1064.3,493.8 L1064.8,494.1 L1065.3,494.3 L1065.8,494.6 L1066.3,494.8 L1066.8,495.0 L1067.3,495.2 L1067.8,495.4 L1068.3,495.5 L1068.8,495.6 L1069.3,495.6 L1069.8,495.7 L1070.3,495.7 L1070.8,495.7 L1071.3,495.8 L1071.8,495.8 L1072.3,495.8 L1072.8,495.8 L1073.3,495.8 L1073.8,495.9 L1074.3,495.9 L1074.8,495.9 L1075.3,495.9 L1075.8,496.0 L1076.3,496.0 L1076.8,496.1 L1077.3,496.2 L1077.8,496.3 L1078.3,496.5 L1078.8,496.6 L1079.3,496.8 L1079.8,497.0 L1080.3,497.2 L1080.8,497.4 L1081.3,497.6 L1081.8,497.9 L1082.3,498.1 L1082.8,498.4 L1083.3,498.6 L1083.8,498.9 L1084.3,499.2 L1084.8,499.5 L1085.3,499.9 L1085.8,500.4 L1086.3,500.8 L1086.8,501.4 L1087.3,501.9 L1087.8,502.5 L1088.3,503.1 L1088.8,503.6 L1089.3,504.2 L1089.8,504.8 L1090.3,505.3 L1090.8,505.9 L1091.3,506.4 L1091.8,506.8 L1092.3,507.3 L1092.8,507.7 L1093.3,508.1 L1093.8,508.5 L1094.3,508.9 L1094.8,509.4 L1095.3,509.8 L1095.8,510.2 L1096.3,510.5 L1096.8,510.9 L1097.3,511.2 L1097.8,511.5 L1098.3,511.7 L1098.8,511.9 L1099.3,512.1 L1099.8,512.3 L1100.3,512.4 L1100.8,512.6 L1101.3,512.8 L1101.8,512.9 L1102.3,513.0 L1102.8,513.2 L1103.3,513.2 L1103.8,513.3 L1104.3,513.4 L1104.8,513.4 L1105.3,513.4 L1105.8,513.3 L1106.3,513.2 L1106.8,513.1 L1107.3,512.9 L1107.8,512.7 L1108.3,512.5 L1108.8,512.2 L1109.3,511.9 L1109.8,511.7 L1110.3,511.4 L1110.8,511.1 L1111.3,510.8 L1111.8,510.5 L1112.3,510.2 L1112.8,509.8 L1113.3,509.4 L1113.8,509.0 L1114.3,508.5 L1114.8,508.0 L1115.3,507.6 L1115.8,507.0 L1116.3,506.5 L1116.8,506.0 L1117.3,505.5 L1117.8,504.9 L1118.3,504.3 L1118.8,503.8 L1119.3,503.2 L1119.8,502.7 L1120.3,502.1 L1120.8,501.4 L1121.3,500.7 L1121.8,500.0 L1122.3,499.3 L1122.8,498.6 L1123.3,497.8 L1123.8,497.1 L1124.3,496.4 L1124.8,495.6 L1125.3,494.9 L1125.8,494.2 L1126.3,493.5 L1126.8,492.9 L1127.3,492.2 L1127.8,491.6 L1128.3,491.1 L1128.8,490.5 L1129.3,489.8 L1129.8,489.2 L1130.3,488.7 L1130.8,488.1 L1131.3,487.5 L1131.8,487.0 L1132.3,486.5 L1132.8,486.0 L1133.3,485.5 L1133.8,485.2 L1134.3,484.8 L1134.8,484.5 L1135.3,484.3 L1135.8,484.0 L1136.3,483.8 L1136.8,483.5 L1137.3,483.3 L1137.8,483.1 L1138.3,482.9 L1138.8,482.8 L1139.3,482.6 L1139.8,482.5 L1140.3,482.4 L1140.8,482.4 L1141.3,482.4 L1141.8,482.4 L1142.3,482.5 L1142.8,482.5 L1143.3,482.6 L1143.8,482.7 L1144.3,482.9 L1144.8,483.0 L1145.3,483.1 L1145.8,483.3 L1146.3,483.4 L1146.8,483.6 L1147.3,483.8 L1147.8,483.9 L1148.3,484.1 L1148.8,484.3 L1149.3,484.5 L1149.8,484.8 L1150.3,485.1 L1150.8,485.4 L1151.3,485.7 L1151.8,486.1 L1152.3,486.4 L1152.8,486.8 L1153.3,487.1 L1153.8,487.5 L1154.3,487.9 L1154.8,488.2 L1155.3,488.6 L1155.8,488.9 L1156.3,489.2 L1156.8,489.5 L1157.3,489.8 L1157.8,490.1 L1158.3,490.4 L1158.8,490.7 L1159.3,491.0 L1159.8,491.3 L1160.3,491.7 L1160.8,492.0 L1161.3,492.3 L1161.8,492.6 L1162.3,492.9 L1162.8,493.2 L1163.3,493.5 L1163.8,493.8 L1164.3,494.0 L1164.8,494.3 L1165.3,494.6 L1165.8,494.9 L1166.3,495.2 L1166.8,495.4 L1167.3,495.7 L1167.8,496.0 L1168.3,496.3 L1168.8,496.5 L1169.3,496.8 L1169.8,497.1 L1170.3,497.3 L1170.8,497.6 L1171.3,497.9 L1171.8,498.1 L1172.3,498.4 L1172.8,498.6 L1173.3,498.9 L1173.8,499.1 L1174.3,499.3 L1174.8,499.5 L1175.3,499.7 L1175.8,499.9 L1176.3,500.1 L1176.8,500.3 L1177.3,500.5 L1177.8,500.7 L1178.3,500.9 L1178.8,501.1 L1179.3,501.3 L1179.8,501.5 L1180.3,501.7 L1180.8,501.9 L1181.3,502.1 L1181.8,502.2 L1182.3,502.4 L1182.8,502.5 L1183.3,502.7 L1183.8,502.8 L1184.3,502.9 L1184.8,502.9 L1185.3,503.0 L1185.8,503.0 L1186.3,503.0 L1186.8,503.0 L1187.3,502.9 L1187.8,502.8 L1188.3,502.7 L1188.8,502.5 L1189.3,502.3 L1189.8,502.1 L1190.3,501.9 L1190.8,501.7 L1191.3,501.4 L1191.8,501.2 L1192.3,500.9 L1192.8,500.7 L1193.3,500.4 L1193.8,500.1 L1194.3,499.8 L1194.8,499.5 L1195.3,499.1 L1195.8,498.6 L1196.3,498.1 L1196.8,497.6 L1197.3,497.1 L1197.8,496.5 L1198.3,495.9 L1198.8,495.3 L1199.3,494.8 L1199.8,494.2 L1200.3,493.6 L1200.8,493.1 L1201.3,492.6 L1201.8,492.2 L1202.3,491.8 L1202.8,491.3 L1203.3,490.9 L1203.8,490.5 L1204.3,490.1 L1204.8,489.7 L1205.3,489.3 L1205.8,488.9 L1206.3,488.5 L1206.8,488.1 L1207.3,487.8 L1207.8,487.5 L1208.3,487.2 L1208.8,486.9 L1209.3,486.7 L1209.8,486.5 L1210.3,486.3 L1210.8,486.1 L1211.3,486.0 L1211.8,485.8 L1212.3,485.6 L1212.8,485.5 L1213.3,485.4 L1213.8,485.3 L1214.3,485.2 L1214.8,485.1 L1215.3,485.0 L1215.8,485.0 L1216.3,485.0 L1216.8,485.0 L1217.3,485.1 L1217.8,485.1 L1218.3,485.2 L1218.8,485.2 L1219.3,485.3 L1219.8,485.4 L1220.3,485.5 L1220.8,485.6 L1221.3,485.7 L1221.8,485.9 L1222.3,486.0 L1222.8,486.1 L1223.3,486.3 L1223.8,486.4 L1224.3,486.5 L1224.8,486.7 L1225.3,486.8 L1225.8,486.9 L1226.3,487.1 L1226.8,487.2 L1227.3,487.4 L1227.8,487.5 L1228.3,487.7 L1228.8,487.9 L1229.3,488.1 L1229.8,488.2 L1230.3,488.4 L1230.8,488.6 L1231.3,488.8 L1231.8,489.0 L1232.3,489.3 L1232.8,489.5 L1233.3,489.7 L1233.8,489.9 L1234.3,490.2 L1234.8,490.4 L1235.3,490.6 L1235.8,490.9 L1236.3,491.1 L1236.8,491.4 L1237.3,491.6 L1237.8,491.9 L1238.3,492.2 L1238.8,492.4 L1239.3,492.7 L1239.8,493.0 L1240.3,493.3 L1240.8,493.7 L1241.3,494.0 L1241.8,494.3 L1242.3,494.7 L1242.8,495.0 L1243.3,495.4 L1243.8,495.8 L1244.3,496.1 L1244.8,496.5 L1245.3,496.9 L1245.8,497.2 L1246.3,497.6 L1246.8,497.9 L1247.3,498.3 L1247.8,498.6 L1248.3,499.0 L1248.8,499.3 L1249.3,499.6 L1249.8,499.9 L1250.3,500.2 L1250.8,500.5 L1251.3,500.7 L1251.8,501.0 L1252.3,501.3 L1252.8,501.6 L1253.3,501.9 L1253.8,502.1 L1254.3,502.4 L1254.8,502.7 L1255.3,502.9 L1255.8,503.2 L1256.3,503.4 L1256.8,503.7 L1257.3,503.9 L1257.8,504.1 L1258.3,504.4 L1258.8,504.6 L1259.3,504.7 L1259.8,504.9 L1260.3,505.1 L1260.8,505.3 L1261.3,505.4 L1261.8,505.6 L1262.3,505.8 L1262.8,505.9 L1263.3,506.1 L1263.8,506.2 L1264.3,506.4 L1264.8,506.5 L1265.3,506.7 L1265.8,506.8 L1266.3,506.9 L1266.8,507.0 L1267.3,507.1 L1267.8,507.2 L1268.3,507.3 L1268.8,507.4 L1269.3,507.5 L1269.8,507.6 L1270.3,507.6 L1270.8,507.7 L1271.3,507.8 L1271.8,507.8 L1272.3,507.9 L1272.8,507.9 L1273.3,508.0 L1273.8,508.0 L1274.3,508.1 L1274.8,508.1 L1275.3,508.2 L1275.8,508.2 L1276.3,508.3 L1276.8,508.3 L1277.3,508.3 L1277.8,508.3 L1278.3,508.4 L1278.8,508.4 L1279.3,508.4 L1279.8,508.4 L1280.3,508.4 L1280.8,508.4 L1281.3,508.4 L1281.8,508.3 L1282.3,508.3 L1282.8,508.3 L1283.3,508.2 L1283.8,508.2 L1284.3,508.1 L1284.8,508.1 L1285.3,508.0 L1285.3,517.9 L781.3,517.9 Z" fill="#dcdcdc" stroke="none"/>
<clipPath id="cCo"><path d="M781.3,415.0 L781.8,414.7 L782.3,414.4 L782.8,414.1 L783.3,413.8 L783.8,413.4 L784.3,413.0 L784.8,412.7 L785.3,412.3 L785.8,411.9 L786.3,411.5 L786.8,411.0 L787.3,410.6 L787.8,410.1 L788.3,409.7 L788.8,409.2 L789.3,408.7 L789.8,408.2 L790.3,407.7 L790.8,407.2 L791.3,406.6 L791.8,406.1 L792.3,405.5 L792.8,404.9 L793.3,404.3 L793.8,403.6 L794.3,403.0 L794.8,402.3 L795.3,401.6 L795.8,400.9 L796.3,400.1 L796.8,399.3 L797.3,398.5 L797.8,397.6 L798.3,396.7 L798.8,395.7 L799.3,394.7 L799.8,393.6 L800.3,392.5 L800.8,391.4 L801.3,390.2 L801.8,389.0 L802.3,387.8 L802.8,386.5 L803.3,385.3 L803.8,384.0 L804.3,382.8 L804.8,381.5 L805.3,380.2 L805.8,379.0 L806.3,377.6 L806.8,376.3 L807.3,374.9 L807.8,373.5 L808.3,372.1 L808.8,370.7 L809.3,369.2 L809.8,367.7 L810.3,366.2 L810.8,364.6 L811.3,363.0 L811.8,361.3 L812.3,359.5 L812.8,357.7 L813.3,355.8 L813.8,354.0 L814.3,352.3 L814.8,350.6 L815.3,349.1 L815.8,347.7 L816.3,346.4 L816.8,345.1 L817.3,343.8 L817.8,342.5 L818.3,341.2 L818.8,339.7 L819.3,338.3 L819.8,336.8 L820.3,335.5 L820.8,334.4 L821.3,333.4 L821.8,332.5 L822.3,331.5 L822.8,330.7 L823.3,329.9 L823.8,329.4 L824.3,329.1 L824.8,329.0 L825.3,329.3 L825.8,329.9 L826.3,330.7 L826.8,331.6 L827.3,332.6 L827.8,333.6 L828.3,334.6 L828.8,335.8 L829.3,337.1 L829.8,338.5 L830.3,340.0 L830.8,341.4 L831.3,342.9 L831.8,344.4 L832.3,345.9 L832.8,347.5 L833.3,349.2 L833.8,350.8 L834.3,352.3 L834.8,353.9 L835.3,355.4 L835.8,356.9 L836.3,358.4 L836.8,359.9 L837.3,361.4 L837.8,362.8 L838.3,364.2 L838.8,365.5 L839.3,366.8 L839.8,368.1 L840.3,369.4 L840.8,370.8 L841.3,372.1 L841.8,373.3 L842.3,374.4 L842.8,375.4 L843.3,376.2 L843.8,376.8 L844.3,377.2 L844.8,377.6 L845.3,378.0 L845.8,378.2 L846.3,378.4 L846.8,378.4 L847.3,378.2 L847.8,378.0 L848.3,377.6 L848.8,377.2 L849.3,376.7 L849.8,376.2 L850.3,375.7 L850.8,375.1 L851.3,374.3 L851.8,373.5 L852.3,372.7 L852.8,371.8 L853.3,371.0 L853.8,370.3 L854.3,369.6 L854.8,368.9 L855.3,368.2 L855.8,367.4 L856.3,366.7 L856.8,366.1 L857.3,365.5 L857.8,365.0 L858.3,364.7 L858.8,364.5 L859.3,364.5 L859.8,364.8 L860.3,365.1 L860.8,365.7 L861.3,366.3 L861.8,367.1 L862.3,367.9 L862.8,368.8 L863.3,369.7 L863.8,370.6 L864.3,371.6 L864.8,372.7 L865.3,373.9 L865.8,375.2 L866.3,376.7 L866.8,378.2 L867.3,379.8 L867.8,381.4 L868.3,382.9 L868.8,384.4 L869.3,385.9 L869.8,387.3 L870.3,388.8 L870.8,390.3 L871.3,391.8 L871.8,393.3 L872.3,394.8 L872.8,396.3 L873.3,397.9 L873.8,399.4 L874.3,400.9 L874.8,402.4 L875.3,403.9 L875.8,405.5 L876.3,407.0 L876.8,408.6 L877.3,410.2 L877.8,411.8 L878.3,413.4 L878.8,414.9 L879.3,416.4 L879.8,417.9 L880.3,419.2 L880.8,420.5 L881.3,421.7 L881.8,422.9 L882.3,424.1 L882.8,425.2 L883.3,426.3 L883.8,427.4 L884.3,428.3 L884.8,429.2 L885.3,430.0 L885.8,430.8 L886.3,431.4 L886.8,432.0 L887.3,432.6 L887.8,433.1 L888.3,433.6 L888.8,434.0 L889.3,434.3 L889.8,434.5 L890.3,434.5 L890.8,434.2 L891.3,433.7 L891.8,433.1 L892.3,432.3 L892.8,431.4 L893.3,430.4 L893.8,429.4 L894.3,428.3 L894.8,426.9 L895.3,425.2 L895.8,423.2 L896.3,421.1 L896.8,418.8 L897.3,416.4 L897.8,414.0 L898.3,411.5 L898.8,408.9 L899.3,406.1 L899.8,403.2 L900.3,400.1 L900.8,397.0 L901.3,393.7 L901.8,390.4 L902.3,386.9 L902.8,383.2 L903.3,379.3 L903.8,375.3 L904.3,371.3 L904.8,367.5 L905.3,363.8 L905.8,360.3 L906.3,356.9 L906.8,353.4 L907.3,349.8 L907.8,346.2 L908.3,342.5 L908.8,338.9 L909.3,335.2 L909.8,331.5 L910.3,327.8 L910.8,324.0 L911.3,320.1 L911.8,316.3 L912.3,312.7 L912.8,309.3 L913.3,306.2 L913.8,303.1 L914.3,300.2 L914.8,297.5 L915.3,295.0 L915.8,292.8 L916.3,290.8 L916.8,288.8 L917.3,286.9 L917.8,285.0 L918.3,283.3 L918.8,281.9 L919.3,281.0 L919.8,280.4 L920.3,280.5 L920.8,280.8 L921.3,281.4 L921.8,282.3 L922.3,283.3 L922.8,284.6 L923.3,285.9 L923.8,287.4 L924.3,289.1 L924.8,291.7 L925.3,295.0 L925.8,298.7 L926.3,302.6 L926.8,306.5 L927.3,310.2 L927.8,314.1 L928.3,318.1 L928.8,322.2 L929.3,326.3 L929.8,330.4 L930.3,334.4 L930.8,338.6 L931.3,342.9 L931.8,347.0 L932.3,351.0 L932.8,354.7 L933.3,357.8 L933.8,360.4 L934.3,363.3 L934.8,367.5 L935.3,372.9 L935.8,378.7 L936.3,384.4 L936.8,390.2 L937.3,396.1 L937.8,402.0 L938.3,407.7 L938.8,413.1 L939.3,418.5 L939.8,423.8 L940.3,428.8 L940.8,433.3 L941.3,437.4 L941.8,441.1 L942.3,444.6 L942.8,447.9 L943.3,451.0 L943.8,453.9 L944.3,456.6 L944.8,459.3 L945.3,461.8 L945.8,464.2 L946.3,466.4 L946.8,468.3 L947.3,470.0 L947.8,471.6 L948.3,473.1 L948.8,474.5 L949.3,475.8 L949.8,477.0 L950.3,478.0 L950.8,478.8 L951.3,479.3 L951.8,479.9 L952.3,480.3 L952.8,480.6 L953.3,480.5 L953.8,480.2 L954.3,479.7 L954.8,479.0 L955.3,478.2 L955.8,477.3 L956.3,476.4 L956.8,475.1 L957.3,473.6 L957.8,471.9 L958.3,470.2 L958.8,468.6 L959.3,467.1 L959.8,465.7 L960.3,464.4 L960.8,463.0 L961.3,461.6 L961.8,460.3 L962.3,458.9 L962.8,457.5 L963.3,456.2 L963.8,454.7 L964.3,453.1 L964.8,451.6 L965.3,450.1 L965.8,448.7 L966.3,447.4 L966.8,446.4 L967.3,445.5 L967.8,444.7 L968.3,443.9 L968.8,443.2 L969.3,442.6 L969.8,442.0 L970.3,441.4 L970.8,440.9 L971.3,440.5 L971.8,440.1 L972.3,439.8 L972.8,439.5 L973.3,439.2 L973.8,438.9 L974.3,438.7 L974.8,438.4 L975.3,438.2 L975.8,438.0 L976.3,437.9 L976.8,437.7 L977.3,437.6 L977.8,437.6 L978.3,437.6 L978.8,437.6 L979.3,437.7 L979.8,437.8 L980.3,437.8 L980.8,437.9 L981.3,438.1 L981.8,438.2 L982.3,438.3 L982.8,438.4 L983.3,438.6 L983.8,438.7 L984.3,438.8 L984.8,439.0 L985.3,439.1 L985.8,439.2 L986.3,439.3 L986.8,439.4 L987.3,439.5 L987.8,439.6 L988.3,439.7 L988.8,439.8 L989.3,439.9 L989.8,440.0 L990.3,440.2 L990.8,440.3 L991.3,440.4 L991.8,440.6 L992.3,440.8 L992.8,440.9 L993.3,441.1 L993.8,441.3 L994.3,441.6 L994.8,441.8 L995.3,442.1 L995.8,442.5 L996.3,442.8 L996.8,443.2 L997.3,443.5 L997.8,444.0 L998.3,444.4 L998.8,444.8 L999.3,445.3 L999.8,445.8 L1000.3,446.4 L1000.8,447.0 L1001.3,447.7 L1001.8,448.4 L1002.3,449.2 L1002.8,450.0 L1003.3,450.8 L1003.8,451.6 L1004.3,452.6 L1004.8,453.6 L1005.3,454.6 L1005.8,455.8 L1006.3,457.0 L1006.8,458.3 L1007.3,459.6 L1007.8,460.9 L1008.3,462.2 L1008.8,463.5 L1009.3,464.8 L1009.8,466.1 L1010.3,467.4 L1010.8,468.8 L1011.3,470.2 L1011.8,471.5 L1012.3,472.9 L1012.8,474.2 L1013.3,475.4 L1013.8,476.6 L1014.3,477.6 L1014.8,478.7 L1015.3,479.8 L1015.8,480.8 L1016.3,481.8 L1016.8,482.8 L1017.3,483.7 L1017.8,484.5 L1018.3,485.2 L1018.8,485.8 L1019.3,486.3 L1019.8,486.8 L1020.3,487.3 L1020.8,487.7 L1021.3,488.2 L1021.8,488.5 L1022.3,488.9 L1022.8,489.1 L1023.3,489.3 L1023.8,489.4 L1024.3,489.4 L1024.8,489.3 L1025.3,489.0 L1025.8,488.8 L1026.3,488.4 L1026.8,488.0 L1027.3,487.6 L1027.8,487.1 L1028.3,486.6 L1028.8,486.2 L1029.3,485.7 L1029.8,485.2 L1030.3,484.6 L1030.8,483.9 L1031.3,483.2 L1031.8,482.4 L1032.3,481.7 L1032.8,480.9 L1033.3,480.2 L1033.8,479.5 L1034.3,478.8 L1034.8,478.2 L1035.3,477.6 L1035.8,477.2 L1036.3,476.8 L1036.8,476.4 L1037.3,476.0 L1037.8,475.7 L1038.3,475.3 L1038.8,475.0 L1039.3,474.7 L1039.8,474.4 L1040.3,474.1 L1040.8,473.9 L1041.3,473.7 L1041.8,473.6 L1042.3,473.5 L1042.8,473.4 L1043.3,473.4 L1043.8,473.5 L1044.3,473.7 L1044.8,473.9 L1045.3,474.1 L1045.8,474.5 L1046.3,474.8 L1046.8,475.2 L1047.3,475.6 L1047.8,476.0 L1048.3,476.4 L1048.8,476.8 L1049.3,477.3 L1049.8,477.7 L1050.3,478.3 L1050.8,478.9 L1051.3,479.5 L1051.8,480.2 L1052.3,480.9 L1052.8,481.7 L1053.3,482.4 L1053.8,483.1 L1054.3,483.8 L1054.8,484.5 L1055.3,485.2 L1055.8,485.8 L1056.3,486.3 L1056.8,486.9 L1057.3,487.5 L1057.8,488.1 L1058.3,488.6 L1058.8,489.2 L1059.3,489.7 L1059.8,490.3 L1060.3,490.8 L1060.8,491.3 L1061.3,491.7 L1061.8,492.2 L1062.3,492.5 L1062.8,492.9 L1063.3,493.2 L1063.8,493.5 L1064.3,493.8 L1064.8,494.1 L1065.3,494.3 L1065.8,494.6 L1066.3,494.8 L1066.8,495.0 L1067.3,495.2 L1067.8,495.4 L1068.3,495.5 L1068.8,495.6 L1069.3,495.6 L1069.8,495.7 L1070.3,495.7 L1070.8,495.7 L1071.3,495.8 L1071.8,495.8 L1072.3,495.8 L1072.8,495.8 L1073.3,495.8 L1073.8,495.9 L1074.3,495.9 L1074.8,495.9 L1075.3,495.9 L1075.8,496.0 L1076.3,496.0 L1076.8,496.1 L1077.3,496.2 L1077.8,496.3 L1078.3,496.5 L1078.8,496.6 L1079.3,496.8 L1079.8,497.0 L1080.3,497.2 L1080.8,497.4 L1081.3,497.6 L1081.8,497.9 L1082.3,498.1 L1082.8,498.4 L1083.3,498.6 L1083.8,498.9 L1084.3,499.2 L1084.8,499.5 L1085.3,499.9 L1085.8,500.4 L1086.3,500.8 L1086.8,501.4 L1087.3,501.9 L1087.8,502.5 L1088.3,503.1 L1088.8,503.6 L1089.3,504.2 L1089.8,504.8 L1090.3,505.3 L1090.8,505.9 L1091.3,506.4 L1091.8,506.8 L1092.3,507.3 L1092.8,507.7 L1093.3,508.1 L1093.8,508.5 L1094.3,508.9 L1094.8,509.4 L1095.3,509.8 L1095.8,510.2 L1096.3,510.5 L1096.8,510.9 L1097.3,511.2 L1097.8,511.5 L1098.3,511.7 L1098.8,511.9 L1099.3,512.1 L1099.8,512.3 L1100.3,512.4 L1100.8,512.6 L1101.3,512.8 L1101.8,512.9 L1102.3,513.0 L1102.8,513.2 L1103.3,513.2 L1103.8,513.3 L1104.3,513.4 L1104.8,513.4 L1105.3,513.4 L1105.8,513.3 L1106.3,513.2 L1106.8,513.1 L1107.3,512.9 L1107.8,512.7 L1108.3,512.5 L1108.8,512.2 L1109.3,511.9 L1109.8,511.7 L1110.3,511.4 L1110.8,511.1 L1111.3,510.8 L1111.8,510.5 L1112.3,510.2 L1112.8,509.8 L1113.3,509.4 L1113.8,509.0 L1114.3,508.5 L1114.8,508.0 L1115.3,507.6 L1115.8,507.0 L1116.3,506.5 L1116.8,506.0 L1117.3,505.5 L1117.8,504.9 L1118.3,504.3 L1118.8,503.8 L1119.3,503.2 L1119.8,502.7 L1120.3,502.1 L1120.8,501.4 L1121.3,500.7 L1121.8,500.0 L1122.3,499.3 L1122.8,498.6 L1123.3,497.8 L1123.8,497.1 L1124.3,496.4 L1124.8,495.6 L1125.3,494.9 L1125.8,494.2 L1126.3,493.5 L1126.8,492.9 L1127.3,492.2 L1127.8,491.6 L1128.3,491.1 L1128.8,490.5 L1129.3,489.8 L1129.8,489.2 L1130.3,488.7 L1130.8,488.1 L1131.3,487.5 L1131.8,487.0 L1132.3,486.5 L1132.8,486.0 L1133.3,485.5 L1133.8,485.2 L1134.3,484.8 L1134.8,484.5 L1135.3,484.3 L1135.8,484.0 L1136.3,483.8 L1136.8,483.5 L1137.3,483.3 L1137.8,483.1 L1138.3,482.9 L1138.8,482.8 L1139.3,482.6 L1139.8,482.5 L1140.3,482.4 L1140.8,482.4 L1141.3,482.4 L1141.8,482.4 L1142.3,482.5 L1142.8,482.5 L1143.3,482.6 L1143.8,482.7 L1144.3,482.9 L1144.8,483.0 L1145.3,483.1 L1145.8,483.3 L1146.3,483.4 L1146.8,483.6 L1147.3,483.8 L1147.8,483.9 L1148.3,484.1 L1148.8,484.3 L1149.3,484.5 L1149.8,484.8 L1150.3,485.1 L1150.8,485.4 L1151.3,485.7 L1151.8,486.1 L1152.3,486.4 L1152.8,486.8 L1153.3,487.1 L1153.8,487.5 L1154.3,487.9 L1154.8,488.2 L1155.3,488.6 L1155.8,488.9 L1156.3,489.2 L1156.8,489.5 L1157.3,489.8 L1157.8,490.1 L1158.3,490.4 L1158.8,490.7 L1159.3,491.0 L1159.8,491.3 L1160.3,491.7 L1160.8,492.0 L1161.3,492.3 L1161.8,492.6 L1162.3,492.9 L1162.8,493.2 L1163.3,493.5 L1163.8,493.8 L1164.3,494.0 L1164.8,494.3 L1165.3,494.6 L1165.8,494.9 L1166.3,495.2 L1166.8,495.4 L1167.3,495.7 L1167.8,496.0 L1168.3,496.3 L1168.8,496.5 L1169.3,496.8 L1169.8,497.1 L1170.3,497.3 L1170.8,497.6 L1171.3,497.9 L1171.8,498.1 L1172.3,498.4 L1172.8,498.6 L1173.3,498.9 L1173.8,499.1 L1174.3,499.3 L1174.8,499.5 L1175.3,499.7 L1175.8,499.9 L1176.3,500.1 L1176.8,500.3 L1177.3,500.5 L1177.8,500.7 L1178.3,500.9 L1178.8,501.1 L1179.3,501.3 L1179.8,501.5 L1180.3,501.7 L1180.8,501.9 L1181.3,502.1 L1181.8,502.2 L1182.3,502.4 L1182.8,502.5 L1183.3,502.7 L1183.8,502.8 L1184.3,502.9 L1184.8,502.9 L1185.3,503.0 L1185.8,503.0 L1186.3,503.0 L1186.8,503.0 L1187.3,502.9 L1187.8,502.8 L1188.3,502.7 L1188.8,502.5 L1189.3,502.3 L1189.8,502.1 L1190.3,501.9 L1190.8,501.7 L1191.3,501.4 L1191.8,501.2 L1192.3,500.9 L1192.8,500.7 L1193.3,500.4 L1193.8,500.1 L1194.3,499.8 L1194.8,499.5 L1195.3,499.1 L1195.8,498.6 L1196.3,498.1 L1196.8,497.6 L1197.3,497.1 L1197.8,496.5 L1198.3,495.9 L1198.8,495.3 L1199.3,494.8 L1199.8,494.2 L1200.3,493.6 L1200.8,493.1 L1201.3,492.6 L1201.8,492.2 L1202.3,491.8 L1202.8,491.3 L1203.3,490.9 L1203.8,490.5 L1204.3,490.1 L1204.8,489.7 L1205.3,489.3 L1205.8,488.9 L1206.3,488.5 L1206.8,488.1 L1207.3,487.8 L1207.8,487.5 L1208.3,487.2 L1208.8,486.9 L1209.3,486.7 L1209.8,486.5 L1210.3,486.3 L1210.8,486.1 L1211.3,486.0 L1211.8,485.8 L1212.3,485.6 L1212.8,485.5 L1213.3,485.4 L1213.8,485.3 L1214.3,485.2 L1214.8,485.1 L1215.3,485.0 L1215.8,485.0 L1216.3,485.0 L1216.8,485.0 L1217.3,485.1 L1217.8,485.1 L1218.3,485.2 L1218.8,485.2 L1219.3,485.3 L1219.8,485.4 L1220.3,485.5 L1220.8,485.6 L1221.3,485.7 L1221.8,485.9 L1222.3,486.0 L1222.8,486.1 L1223.3,486.3 L1223.8,486.4 L1224.3,486.5 L1224.8,486.7 L1225.3,486.8 L1225.8,486.9 L1226.3,487.1 L1226.8,487.2 L1227.3,487.4 L1227.8,487.5 L1228.3,487.7 L1228.8,487.9 L1229.3,488.1 L1229.8,488.2 L1230.3,488.4 L1230.8,488.6 L1231.3,488.8 L1231.8,489.0 L1232.3,489.3 L1232.8,489.5 L1233.3,489.7 L1233.8,489.9 L1234.3,490.2 L1234.8,490.4 L1235.3,490.6 L1235.8,490.9 L1236.3,491.1 L1236.8,491.4 L1237.3,491.6 L1237.8,491.9 L1238.3,492.2 L1238.8,492.4 L1239.3,492.7 L1239.8,493.0 L1240.3,493.3 L1240.8,493.7 L1241.3,494.0 L1241.8,494.3 L1242.3,494.7 L1242.8,495.0 L1243.3,495.4 L1243.8,495.8 L1244.3,496.1 L1244.8,496.5 L1245.3,496.9 L1245.8,497.2 L1246.3,497.6 L1246.8,497.9 L1247.3,498.3 L1247.8,498.6 L1248.3,499.0 L1248.8,499.3 L1249.3,499.6 L1249.8,499.9 L1250.3,500.2 L1250.8,500.5 L1251.3,500.7 L1251.8,501.0 L1252.3,501.3 L1252.8,501.6 L1253.3,501.9 L1253.8,502.1 L1254.3,502.4 L1254.8,502.7 L1255.3,502.9 L1255.8,503.2 L1256.3,503.4 L1256.8,503.7 L1257.3,503.9 L1257.8,504.1 L1258.3,504.4 L1258.8,504.6 L1259.3,504.7 L1259.8,504.9 L1260.3,505.1 L1260.8,505.3 L1261.3,505.4 L1261.8,505.6 L1262.3,505.8 L1262.8,505.9 L1263.3,506.1 L1263.8,506.2 L1264.3,506.4 L1264.8,506.5 L1265.3,506.7 L1265.8,506.8 L1266.3,506.9 L1266.8,507.0 L1267.3,507.1 L1267.8,507.2 L1268.3,507.3 L1268.8,507.4 L1269.3,507.5 L1269.8,507.6 L1270.3,507.6 L1270.8,507.7 L1271.3,507.8 L1271.8,507.8 L1272.3,507.9 L1272.8,507.9 L1273.3,508.0 L1273.8,508.0 L1274.3,508.1 L1274.8,508.1 L1275.3,508.2 L1275.8,508.2 L1276.3,508.3 L1276.8,508.3 L1277.3,508.3 L1277.8,508.3 L1278.3,508.4 L1278.8,508.4 L1279.3,508.4 L1279.8,508.4 L1280.3,508.4 L1280.8,508.4 L1281.3,508.4 L1281.8,508.3 L1282.3,508.3 L1282.8,508.3 L1283.3,508.2 L1283.8,508.2 L1284.3,508.1 L1284.8,508.1 L1285.3,508.0 L1285.3,517.9 L781.3,517.9 Z"/></clipPath>
<g clip-path="url(#cCo)">
<rect x="781.3" y="82.1" width="504.0" height="353.9" fill="url(#hatch)"/>
<rect x="781.3" y="513.6" width="504.0" height="5.0" fill="#d0d0d0"/>
<rect x="781.3" y="435.8" width="504.0" height="1.4" fill="#cdcdcd"/>
<rect x="781.3" y="471.0" width="504.0" height="1.2" fill="#d4d4d4"/>
</g>
<path d="M781.3,415.0 L781.8,414.7 L782.3,414.4 L782.8,414.1 L783.3,413.8 L783.8,413.4 L784.3,413.0 L784.8,412.7 L785.3,412.3 L785.8,411.9 L786.3,411.5 L786.8,411.0 L787.3,410.6 L787.8,410.1 L788.3,409.7 L788.8,409.2 L789.3,408.7 L789.8,408.2 L790.3,407.7 L790.8,407.2 L791.3,406.6 L791.8,406.1 L792.3,405.5 L792.8,404.9 L793.3,404.3 L793.8,403.6 L794.3,403.0 L794.8,402.3 L795.3,401.6 L795.8,400.9 L796.3,400.1 L796.8,399.3 L797.3,398.5 L797.8,397.6 L798.3,396.7 L798.8,395.7 L799.3,394.7 L799.8,393.6 L800.3,392.5 L800.8,391.4 L801.3,390.2 L801.8,389.0 L802.3,387.8 L802.8,386.5 L803.3,385.3 L803.8,384.0 L804.3,382.8 L804.8,381.5 L805.3,380.2 L805.8,379.0 L806.3,377.6 L806.8,376.3 L807.3,374.9 L807.8,373.5 L808.3,372.1 L808.8,370.7 L809.3,369.2 L809.8,367.7 L810.3,366.2 L810.8,364.6 L811.3,363.0 L811.8,361.3 L812.3,359.5 L812.8,357.7 L813.3,355.8 L813.8,354.0 L814.3,352.3 L814.8,350.6 L815.3,349.1 L815.8,347.7 L816.3,346.4 L816.8,345.1 L817.3,343.8 L817.8,342.5 L818.3,341.2 L818.8,339.7 L819.3,338.3 L819.8,336.8 L820.3,335.5 L820.8,334.4 L821.3,333.4 L821.8,332.5 L822.3,331.5 L822.8,330.7 L823.3,329.9 L823.8,329.4 L824.3,329.1 L824.8,329.0 L825.3,329.3 L825.8,329.9 L826.3,330.7 L826.8,331.6 L827.3,332.6 L827.8,333.6 L828.3,334.6 L828.8,335.8 L829.3,337.1 L829.8,338.5 L830.3,340.0 L830.8,341.4 L831.3,342.9 L831.8,344.4 L832.3,345.9 L832.8,347.5 L833.3,349.2 L833.8,350.8 L834.3,352.3 L834.8,353.9 L835.3,355.4 L835.8,356.9 L836.3,358.4 L836.8,359.9 L837.3,361.4 L837.8,362.8 L838.3,364.2 L838.8,365.5 L839.3,366.8 L839.8,368.1 L840.3,369.4 L840.8,370.8 L841.3,372.1 L841.8,373.3 L842.3,374.4 L842.8,375.4 L843.3,376.2 L843.8,376.8 L844.3,377.2 L844.8,377.6 L845.3,378.0 L845.8,378.2 L846.3,378.4 L846.8,378.4 L847.3,378.2 L847.8,378.0 L848.3,377.6 L848.8,377.2 L849.3,376.7 L849.8,376.2 L850.3,375.7 L850.8,375.1 L851.3,374.3 L851.8,373.5 L852.3,372.7 L852.8,371.8 L853.3,371.0 L853.8,370.3 L854.3,369.6 L854.8,368.9 L855.3,368.2 L855.8,367.4 L856.3,366.7 L856.8,366.1 L857.3,365.5 L857.8,365.0 L858.3,364.7 L858.8,364.5 L859.3,364.5 L859.8,364.8 L860.3,365.1 L860.8,365.7 L861.3,366.3 L861.8,367.1 L862.3,367.9 L862.8,368.8 L863.3,369.7 L863.8,370.6 L864.3,371.6 L864.8,372.7 L865.3,373.9 L865.8,375.2 L866.3,376.7 L866.8,378.2 L867.3,379.8 L867.8,381.4 L868.3,382.9 L868.8,384.4 L869.3,385.9 L869.8,387.3 L870.3,388.8 L870.8,390.3 L871.3,391.8 L871.8,393.3 L872.3,394.8 L872.8,396.3 L873.3,397.9 L873.8,399.4 L874.3,400.9 L874.8,402.4 L875.3,403.9 L875.8,405.5 L876.3,407.0 L876.8,408.6 L877.3,410.2 L877.8,411.8 L878.3,413.4 L878.8,414.9 L879.3,416.4 L879.8,417.9 L880.3,419.2 L880.8,420.5 L881.3,421.7 L881.8,422.9 L882.3,424.1 L882.8,425.2 L883.3,426.3 L883.8,427.4 L884.3,428.3 L884.8,429.2 L885.3,430.0 L885.8,430.8 L886.3,431.4 L886.8,432.0 L887.3,432.6 L887.8,433.1 L888.3,433.6 L888.8,434.0 L889.3,434.3 L889.8,434.5 L890.3,434.5 L890.8,434.2 L891.3,433.7 L891.8,433.1 L892.3,432.3 L892.8,431.4 L893.3,430.4 L893.8,429.4 L894.3,428.3 L894.8,426.9 L895.3,425.2 L895.8,423.2 L896.3,421.1 L896.8,418.8 L897.3,416.4 L897.8,414.0 L898.3,411.5 L898.8,408.9 L899.3,406.1 L899.8,403.2 L900.3,400.1 L900.8,397.0 L901.3,393.7 L901.8,390.4 L902.3,386.9 L902.8,383.2 L903.3,379.3 L903.8,375.3 L904.3,371.3 L904.8,367.5 L905.3,363.8 L905.8,360.3 L906.3,356.9 L906.8,353.4 L907.3,349.8 L907.8,346.2 L908.3,342.5 L908.8,338.9 L909.3,335.2 L909.8,331.5 L910.3,327.8 L910.8,324.0 L911.3,320.1 L911.8,316.3 L912.3,312.7 L912.8,309.3 L913.3,306.2 L913.8,303.1 L914.3,300.2 L914.8,297.5 L915.3,295.0 L915.8,292.8 L916.3,290.8 L916.8,288.8 L917.3,286.9 L917.8,285.0 L918.3,283.3 L918.8,281.9 L919.3,281.0 L919.8,280.4 L920.3,280.5 L920.8,280.8 L921.3,281.4 L921.8,282.3 L922.3,283.3 L922.8,284.6 L923.3,285.9 L923.8,287.4 L924.3,289.1 L924.8,291.7 L925.3,295.0 L925.8,298.7 L926.3,302.6 L926.8,306.5 L927.3,310.2 L927.8,314.1 L928.3,318.1 L928.8,322.2 L929.3,326.3 L929.8,330.4 L930.3,334.4 L930.8,338.6 L931.3,342.9 L931.8,347.0 L932.3,351.0 L932.8,354.7 L933.3,357.8 L933.8,360.4 L934.3,363.3 L934.8,367.5 L935.3,372.9 L935.8,378.7 L936.3,384.4 L936.8,390.2 L937.3,396.1 L937.8,402.0 L938.3,407.7 L938.8,413.1 L939.3,418.5 L939.8,423.8 L940.3,428.8 L940.8,433.3 L941.3,437.4 L941.8,441.1 L942.3,444.6 L942.8,447.9 L943.3,451.0 L943.8,453.9 L944.3,456.6 L944.8,459.3 L945.3,461.8 L945.8,464.2 L946.3,466.4 L946.8,468.3 L947.3,470.0 L947.8,471.6 L948.3,473.1 L948.8,474.5 L949.3,475.8 L949.8,477.0 L950.3,478.0 L950.8,478.8 L951.3,479.3 L951.8,479.9 L952.3,480.3 L952.8,480.6 L953.3,480.5 L953.8,480.2 L954.3,479.7 L954.8,479.0 L955.3,478.2 L955.8,477.3 L956.3,476.4 L956.8,475.1 L957.3,473.6 L957.8,471.9 L958.3,470.2 L958.8,468.6 L959.3,467.1 L959.8,465.7 L960.3,464.4 L960.8,463.0 L961.3,461.6 L961.8,460.3 L962.3,458.9 L962.8,457.5 L963.3,456.2 L963.8,454.7 L964.3,453.1 L964.8,451.6 L965.3,450.1 L965.8,448.7 L966.3,447.4 L966.8,446.4 L967.3,445.5 L967.8,444.7 L968.3,443.9 L968.8,443.2 L969.3,442.6 L969.8,442.0 L970.3,441.4 L970.8,440.9 L971.3,440.5 L971.8,440.1 L972.3,439.8 L972.8,439.5 L973.3,439.2 L973.8,438.9 L974.3,438.7 L974.8,438.4 L975.3,438.2 L975.8,438.0 L976.3,437.9 L976.8,437.7 L977.3,437.6 L977.8,437.6 L978.3,437.6 L978.8,437.6 L979.3,437.7 L979.8,437.8 L980.3,437.8 L980.8,437.9 L981.3,438.1 L981.8,438.2 L982.3,438.3 L982.8,438.4 L983.3,438.6 L983.8,438.7 L984.3,438.8 L984.8,439.0 L985.3,439.1 L985.8,439.2 L986.3,439.3 L986.8,439.4 L987.3,439.5 L987.8,439.6 L988.3,439.7 L988.8,439.8 L989.3,439.9 L989.8,440.0 L990.3,440.2 L990.8,440.3 L991.3,440.4 L991.8,440.6 L992.3,440.8 L992.8,440.9 L993.3,441.1 L993.8,441.3 L994.3,441.6 L994.8,441.8 L995.3,442.1 L995.8,442.5 L996.3,442.8 L996.8,443.2 L997.3,443.5 L997.8,444.0 L998.3,444.4 L998.8,444.8 L999.3,445.3 L999.8,445.8 L1000.3,446.4 L1000.8,447.0 L1001.3,447.7 L1001.8,448.4 L1002.3,449.2 L1002.8,450.0 L1003.3,450.8 L1003.8,451.6 L1004.3,452.6 L1004.8,453.6 L1005.3,454.6 L1005.8,455.8 L1006.3,457.0 L1006.8,458.3 L1007.3,459.6 L1007.8,460.9 L1008.3,462.2 L1008.8,463.5 L1009.3,464.8 L1009.8,466.1 L1010.3,467.4 L1010.8,468.8 L1011.3,470.2 L1011.8,471.5 L1012.3,472.9 L1012.8,474.2 L1013.3,475.4 L1013.8,476.6 L1014.3,477.6 L1014.8,478.7 L1015.3,479.8 L1015.8,480.8 L1016.3,481.8 L1016.8,482.8 L1017.3,483.7 L1017.8,484.5 L1018.3,485.2 L1018.8,485.8 L1019.3,486.3 L1019.8,486.8 L1020.3,487.3 L1020.8,487.7 L1021.3,488.2 L1021.8,488.5 L1022.3,488.9 L1022.8,489.1 L1023.3,489.3 L1023.8,489.4 L1024.3,489.4 L1024.8,489.3 L1025.3,489.0 L1025.8,488.8 L1026.3,488.4 L1026.8,488.0 L1027.3,487.6 L1027.8,487.1 L1028.3,486.6 L1028.8,486.2 L1029.3,485.7 L1029.8,485.2 L1030.3,484.6 L1030.8,483.9 L1031.3,483.2 L1031.8,482.4 L1032.3,481.7 L1032.8,480.9 L1033.3,480.2 L1033.8,479.5 L1034.3,478.8 L1034.8,478.2 L1035.3,477.6 L1035.8,477.2 L1036.3,476.8 L1036.8,476.4 L1037.3,476.0 L1037.8,475.7 L1038.3,475.3 L1038.8,475.0 L1039.3,474.7 L1039.8,474.4 L1040.3,474.1 L1040.8,473.9 L1041.3,473.7 L1041.8,473.6 L1042.3,473.5 L1042.8,473.4 L1043.3,473.4 L1043.8,473.5 L1044.3,473.7 L1044.8,473.9 L1045.3,474.1 L1045.8,474.5 L1046.3,474.8 L1046.8,475.2 L1047.3,475.6 L1047.8,476.0 L1048.3,476.4 L1048.8,476.8 L1049.3,477.3 L1049.8,477.7 L1050.3,478.3 L1050.8,478.9 L1051.3,479.5 L1051.8,480.2 L1052.3,480.9 L1052.8,481.7 L1053.3,482.4 L1053.8,483.1 L1054.3,483.8 L1054.8,484.5 L1055.3,485.2 L1055.8,485.8 L1056.3,486.3 L1056.8,486.9 L1057.3,487.5 L1057.8,488.1 L1058.3,488.6 L1058.8,489.2 L1059.3,489.7 L1059.8,490.3 L1060.3,490.8 L1060.8,491.3 L1061.3,491.7 L1061.8,492.2 L1062.3,492.5 L1062.8,492.9 L1063.3,493.2 L1063.8,493.5 L1064.3,493.8 L1064.8,494.1 L1065.3,494.3 L1065.8,494.6 L1066.3,494.8 L1066.8,495.0 L1067.3,495.2 L1067.8,495.4 L1068.3,495.5 L1068.8,495.6 L1069.3,495.6 L1069.8,495.7 L1070.3,495.7 L1070.8,495.7 L1071.3,495.8 L1071.8,495.8 L1072.3,495.8 L1072.8,495.8 L1073.3,495.8 L1073.8,495.9 L1074.3,495.9 L1074.8,495.9 L1075.3,495.9 L1075.8,496.0 L1076.3,496.0 L1076.8,496.1 L1077.3,496.2 L1077.8,496.3 L1078.3,496.5 L1078.8,496.6 L1079.3,496.8 L1079.8,497.0 L1080.3,497.2 L1080.8,497.4 L1081.3,497.6 L1081.8,497.9 L1082.3,498.1 L1082.8,498.4 L1083.3,498.6 L1083.8,498.9 L1084.3,499.2 L1084.8,499.5 L1085.3,499.9 L1085.8,500.4 L1086.3,500.8 L1086.8,501.4 L1087.3,501.9 L1087.8,502.5 L1088.3,503.1 L1088.8,503.6 L1089.3,504.2 L1089.8,504.8 L1090.3,505.3 L1090.8,505.9 L1091.3,506.4 L1091.8,506.8 L1092.3,507.3 L1092.8,507.7 L1093.3,508.1 L1093.8,508.5 L1094.3,508.9 L1094.8,509.4 L1095.3,509.8 L1095.8,510.2 L1096.3,510.5 L1096.8,510.9 L1097.3,511.2 L1097.8,511.5 L1098.3,511.7 L1098.8,511.9 L1099.3,512.1 L1099.8,512.3 L1100.3,512.4 L1100.8,512.6 L1101.3,512.8 L1101.8,512.9 L1102.3,513.0 L1102.8,513.2 L1103.3,513.2 L1103.8,513.3 L1104.3,513.4 L1104.8,513.4 L1105.3,513.4 L1105.8,513.3 L1106.3,513.2 L1106.8,513.1 L1107.3,512.9 L1107.8,512.7 L1108.3,512.5 L1108.8,512.2 L1109.3,511.9 L1109.8,511.7 L1110.3,511.4 L1110.8,511.1 L1111.3,510.8 L1111.8,510.5 L1112.3,510.2 L1112.8,509.8 L1113.3,509.4 L1113.8,509.0 L1114.3,508.5 L1114.8,508.0 L1115.3,507.6 L1115.8,507.0 L1116.3,506.5 L1116.8,506.0 L1117.3,505.5 L1117.8,504.9 L1118.3,504.3 L1118.8,503.8 L1119.3,503.2 L1119.8,502.7 L1120.3,502.1 L1120.8,501.4 L1121.3,500.7 L1121.8,500.0 L1122.3,499.3 L1122.8,498.6 L1123.3,497.8 L1123.8,497.1 L1124.3,496.4 L1124.8,495.6 L1125.3,494.9 L1125.8,494.2 L1126.3,493.5 L1126.8,492.9 L1127.3,492.2 L1127.8,491.6 L1128.3,491.1 L1128.8,490.5 L1129.3,489.8 L1129.8,489.2 L1130.3,488.7 L1130.8,488.1 L1131.3,487.5 L1131.8,487.0 L1132.3,486.5 L1132.8,486.0 L1133.3,485.5 L1133.8,485.2 L1134.3,484.8 L1134.8,484.5 L1135.3,484.3 L1135.8,484.0 L1136.3,483.8 L1136.8,483.5 L1137.3,483.3 L1137.8,483.1 L1138.3,482.9 L1138.8,482.8 L1139.3,482.6 L1139.8,482.5 L1140.3,482.4 L1140.8,482.4 L1141.3,482.4 L1141.8,482.4 L1142.3,482.5 L1142.8,482.5 L1143.3,482.6 L1143.8,482.7 L1144.3,482.9 L1144.8,483.0 L1145.3,483.1 L1145.8,483.3 L1146.3,483.4 L1146.8,483.6 L1147.3,483.8 L1147.8,483.9 L1148.3,484.1 L1148.8,484.3 L1149.3,484.5 L1149.8,484.8 L1150.3,485.1 L1150.8,485.4 L1151.3,485.7 L1151.8,486.1 L1152.3,486.4 L1152.8,486.8 L1153.3,487.1 L1153.8,487.5 L1154.3,487.9 L1154.8,488.2 L1155.3,488.6 L1155.8,488.9 L1156.3,489.2 L1156.8,489.5 L1157.3,489.8 L1157.8,490.1 L1158.3,490.4 L1158.8,490.7 L1159.3,491.0 L1159.8,491.3 L1160.3,491.7 L1160.8,492.0 L1161.3,492.3 L1161.8,492.6 L1162.3,492.9 L1162.8,493.2 L1163.3,493.5 L1163.8,493.8 L1164.3,494.0 L1164.8,494.3 L1165.3,494.6 L1165.8,494.9 L1166.3,495.2 L1166.8,495.4 L1167.3,495.7 L1167.8,496.0 L1168.3,496.3 L1168.8,496.5 L1169.3,496.8 L1169.8,497.1 L1170.3,497.3 L1170.8,497.6 L1171.3,497.9 L1171.8,498.1 L1172.3,498.4 L1172.8,498.6 L1173.3,498.9 L1173.8,499.1 L1174.3,499.3 L1174.8,499.5 L1175.3,499.7 L1175.8,499.9 L1176.3,500.1 L1176.8,500.3 L1177.3,500.5 L1177.8,500.7 L1178.3,500.9 L1178.8,501.1 L1179.3,501.3 L1179.8,501.5 L1180.3,501.7 L1180.8,501.9 L1181.3,502.1 L1181.8,502.2 L1182.3,502.4 L1182.8,502.5 L1183.3,502.7 L1183.8,502.8 L1184.3,502.9 L1184.8,502.9 L1185.3,503.0 L1185.8,503.0 L1186.3,503.0 L1186.8,503.0 L1187.3,502.9 L1187.8,502.8 L1188.3,502.7 L1188.8,502.5 L1189.3,502.3 L1189.8,502.1 L1190.3,501.9 L1190.8,501.7 L1191.3,501.4 L1191.8,501.2 L1192.3,500.9 L1192.8,500.7 L1193.3,500.4 L1193.8,500.1 L1194.3,499.8 L1194.8,499.5 L1195.3,499.1 L1195.8,498.6 L1196.3,498.1 L1196.8,497.6 L1197.3,497.1 L1197.8,496.5 L1198.3,495.9 L1198.8,495.3 L1199.3,494.8 L1199.8,494.2 L1200.3,493.6 L1200.8,493.1 L1201.3,492.6 L1201.8,492.2 L1202.3,491.8 L1202.8,491.3 L1203.3,490.9 L1203.8,490.5 L1204.3,490.1 L1204.8,489.7 L1205.3,489.3 L1205.8,488.9 L1206.3,488.5 L1206.8,488.1 L1207.3,487.8 L1207.8,487.5 L1208.3,487.2 L1208.8,486.9 L1209.3,486.7 L1209.8,486.5 L1210.3,486.3 L1210.8,486.1 L1211.3,486.0 L1211.8,485.8 L1212.3,485.6 L1212.8,485.5 L1213.3,485.4 L1213.8,485.3 L1214.3,485.2 L1214.8,485.1 L1215.3,485.0 L1215.8,485.0 L1216.3,485.0 L1216.8,485.0 L1217.3,485.1 L1217.8,485.1 L1218.3,485.2 L1218.8,485.2 L1219.3,485.3 L1219.8,485.4 L1220.3,485.5 L1220.8,485.6 L1221.3,485.7 L1221.8,485.9 L1222.3,486.0 L1222.8,486.1 L1223.3,486.3 L1223.8,486.4 L1224.3,486.5 L1224.8,486.7 L1225.3,486.8 L1225.8,486.9 L1226.3,487.1 L1226.8,487.2 L1227.3,487.4 L1227.8,487.5 L1228.3,487.7 L1228.8,487.9 L1229.3,488.1 L1229.8,488.2 L1230.3,488.4 L1230.8,488.6 L1231.3,488.8 L1231.8,489.0 L1232.3,489.3 L1232.8,489.5 L1233.3,489.7 L1233.8,489.9 L1234.3,490.2 L1234.8,490.4 L1235.3,490.6 L1235.8,490.9 L1236.3,491.1 L1236.8,491.4 L1237.3,491.6 L1237.8,491.9 L1238.3,492.2 L1238.8,492.4 L1239.3,492.7 L1239.8,493.0 L1240.3,493.3 L1240.8,493.7 L1241.3,494.0 L1241.8,494.3 L1242.3,494.7 L1242.8,495.0 L1243.3,495.4 L1243.8,495.8 L1244.3,496.1 L1244.8,496.5 L1245.3,496.9 L1245.8,497.2 L1246.3,497.6 L1246.8,497.9 L1247.3,498.3 L1247.8,498.6 L1248.3,499.0 L1248.8,499.3 L1249.3,499.6 L1249.8,499.9 L1250.3,500.2 L1250.8,500.5 L1251.3,500.7 L1251.8,501.0 L1252.3,501.3 L1252.8,501.6 L1253.3,501.9 L1253.8,502.1 L1254.3,502.4 L1254.8,502.7 L1255.3,502.9 L1255.8,503.2 L1256.3,503.4 L1256.8,503.7 L1257.3,503.9 L1257.8,504.1 L1258.3,504.4 L1258.8,504.6 L1259.3,504.7 L1259.8,504.9 L1260.3,505.1 L1260.8,505.3 L1261.3,505.4 L1261.8,505.6 L1262.3,505.8 L1262.8,505.9 L1263.3,506.1 L1263.8,506.2 L1264.3,506.4 L1264.8,506.5 L1265.3,506.7 L1265.8,506.8 L1266.3,506.9 L1266.8,507.0 L1267.3,507.1 L1267.8,507.2 L1268.3,507.3 L1268.8,507.4 L1269.3,507.5 L1269.8,507.6 L1270.3,507.6 L1270.8,507.7 L1271.3,507.8 L1271.8,507.8 L1272.3,507.9 L1272.8,507.9 L1273.3,508.0 L1273.8,508.0 L1274.3,508.1 L1274.8,508.1 L1275.3,508.2 L1275.8,508.2 L1276.3,508.3 L1276.8,508.3 L1277.3,508.3 L1277.8,508.3 L1278.3,508.4 L1278.8,508.4 L1279.3,508.4 L1279.8,508.4 L1280.3,508.4 L1280.8,508.4 L1281.3,508.4 L1281.8,508.3 L1282.3,508.3 L1282.8,508.3 L1283.3,508.2 L1283.8,508.2 L1284.3,508.1 L1284.8,508.1 L1285.3,508.0" fill="none" stroke="#c4c4c4" stroke-width="1.1"/>
<g stroke="#1a1a1a" stroke-width="1.3" fill="none">
<path d="M781.3,82.1 L781.3,414.6" stroke="#1a1a1a" stroke-width="1.3"/>
<path d="M781.3,414.6 L781.3,517.9" stroke="#808080" stroke-width="1.1"/>
<path d="M775.1,517.9 L1285.3,517.9"/>
<path d="M775.1,82.1 L781.3,82.1"/>
<path d="M775.1,227.4 L781.3,227.4"/>
<path d="M775.1,372.6 L781.3,372.6"/>
<path d="M781.3,517.9 L781.3,524.1"/>
<path d="M907.3,517.9 L907.3,524.1"/>
<path d="M1033.3,517.9 L1033.3,524.1"/>
<path d="M1159.3,517.9 L1159.3,524.1"/>
<path d="M1285.3,517.9 L1285.3,524.1"/>
</g>
<path d="M781.4,517.0 L781.9,516.4 L782.4,515.7 L782.9,515.0 L783.4,514.3 L783.9,513.5 L784.4,512.7 L784.9,511.9 L785.4,511.1 L785.9,510.2 L786.4,509.3 L786.9,508.3 L787.4,507.2 L787.9,506.1 L788.4,504.9 L788.9,503.8 L789.4,502.6 L789.9,501.4 L790.4,500.3 L790.9,499.2 L791.4,498.2 L791.9,497.1 L792.4,496.1 L792.9,495.0 L793.4,494.0 L793.9,493.0 L794.4,492.0 L794.9,491.0 L795.4,490.1 L795.9,489.2 L796.4,488.3 L796.9,487.5 L797.4,486.7 L797.9,485.9 L798.4,485.2 L798.9,484.4 L799.4,483.6 L799.9,482.9 L800.4,482.0 L800.9,481.2 L801.4,480.3 L801.9,479.4 L802.4,478.6 L802.9,477.6 L803.4,476.7 L803.9,475.7 L804.4,474.5 L804.9,473.3 L805.4,471.8 L805.9,470.1 L806.4,468.2 L806.9,466.0 L807.4,463.8 L807.9,461.5 L808.4,459.1 L808.9,456.6 L809.4,454.0 L809.9,451.1 L810.4,448.1 L810.9,444.7 L811.4,441.0 L811.9,436.8 L812.4,432.3 L812.9,427.3 L813.4,421.9 L813.9,416.2 L814.4,409.8 L814.9,402.3 L815.4,394.4 L815.9,386.5 L816.4,379.2 L816.9,372.2 L817.4,364.9 L817.9,356.8 L818.4,346.7 L818.9,335.0 L819.4,324.0 L819.9,314.6 L820.4,305.7 L820.9,297.2 L821.4,289.2 L821.9,281.5 L822.4,274.3 L822.9,267.8 L823.4,261.7 L823.9,255.5 L824.4,248.9 L824.9,241.6 L825.4,232.3 L825.9,222.5 L826.4,215.8 L826.9,209.9 L827.4,204.8 L827.9,200.1 L828.4,195.8 L828.9,191.8 L829.4,187.8 L829.9,183.9 L830.4,180.5 L830.9,177.9 L831.4,176.1 L831.9,174.4 L832.4,173.2 L832.9,172.6 L833.4,172.9 L833.9,173.9 L834.4,175.4 L834.9,177.1 L835.4,179.3 L835.9,182.4 L836.4,186.2 L836.9,190.2 L837.4,194.3 L837.9,198.8 L838.4,203.6 L838.9,208.7 L839.4,214.1 L839.9,219.8 L840.4,226.0 L840.9,232.8 L841.4,240.0 L841.9,247.3 L842.4,254.9 L842.9,262.7 L843.4,270.6 L843.9,278.4 L844.4,286.4 L844.9,294.5 L845.4,302.7 L845.9,310.8 L846.4,318.8 L846.9,326.5 L847.4,333.9 L847.9,341.0 L848.4,348.0 L848.9,354.7 L849.4,361.3 L849.9,367.7 L850.4,373.8 L850.9,379.8 L851.4,385.8 L851.9,391.7 L852.4,397.6 L852.9,403.3 L853.4,408.8 L853.9,414.0 L854.4,419.0 L854.9,424.2 L855.4,429.1 L855.9,433.4 L856.4,436.9 L856.9,439.4 L857.4,441.3 L857.9,442.8 L858.4,443.8 L858.9,444.8 L859.4,445.5 L859.9,446.0 L860.4,446.1 L860.9,446.2 L861.4,446.3 L861.9,446.4 L862.4,446.4 L862.9,446.6 L863.4,446.9 L863.9,447.5 L864.4,448.3 L864.9,449.1 L865.4,449.9 L865.9,450.6 L866.4,451.0 L866.9,451.0 L867.4,450.7 L867.9,450.4 L868.4,449.9 L868.9,449.3 L869.4,448.7 L869.9,448.1 L870.4,447.5 L870.9,446.8 L871.4,446.0 L871.9,445.2 L872.4,444.3 L872.9,443.3 L873.4,442.3 L873.9,441.2 L874.4,440.1 L874.9,438.8 L875.4,437.5 L875.9,436.1 L876.4,434.5 L876.9,432.9 L877.4,431.2 L877.9,429.4 L878.4,427.4 L878.9,425.1 L879.4,422.6 L879.9,420.0 L880.4,417.5 L880.9,415.0 L881.4,412.5 L881.9,409.6 L882.4,406.4 L882.9,402.9 L883.4,399.1 L883.9,395.1 L884.4,390.7 L884.9,386.0 L885.4,380.9 L885.9,375.3 L886.4,369.2 L886.9,362.4 L887.4,355.0 L887.9,345.7 L888.4,338.3 L888.9,331.8 L889.4,326.0 L889.9,320.5 L890.4,315.0 L890.9,309.2 L891.4,303.0 L891.9,296.6 L892.4,290.2 L892.9,283.8 L893.4,277.4 L893.9,271.2 L894.4,265.2 L894.9,259.3 L895.4,253.5 L895.9,247.8 L896.4,242.2 L896.9,236.7 L897.4,231.2 L897.9,226.0 L898.4,221.2 L898.9,216.6 L899.4,212.2 L899.9,208.0 L900.4,204.0 L900.9,200.3 L901.4,196.6 L901.9,193.1 L902.4,190.3 L902.9,188.4 L903.4,186.5 L903.9,185.1 L904.4,184.3 L904.9,184.4 L905.4,185.4 L905.9,186.9 L906.4,188.8 L906.9,190.7 L907.4,193.3 L907.9,196.4 L908.4,199.7 L908.9,203.0 L909.4,206.2 L909.9,209.5 L910.4,213.2 L910.9,217.5 L911.4,222.7 L911.9,230.0 L912.4,240.0 L912.9,248.2 L913.4,255.9 L913.9,263.3 L914.4,270.7 L914.9,278.4 L915.4,286.5 L915.9,294.7 L916.4,303.0 L916.9,311.5 L917.4,320.0 L917.9,328.9 L918.4,338.1 L918.9,347.0 L919.4,355.0 L919.9,361.9 L920.4,368.2 L920.9,374.1 L921.4,379.9 L921.9,385.8 L922.4,391.9 L922.9,397.8 L923.4,403.8 L923.9,409.9 L924.4,416.3 L924.9,423.5 L925.4,431.8 L925.9,438.9 L926.4,443.7 L926.9,447.8 L927.4,451.3 L927.9,454.3 L928.4,457.0 L928.9,459.4 L929.4,461.7 L929.9,463.8 L930.4,465.5 L930.9,466.8 L931.4,467.6 L931.9,468.2 L932.4,468.6 L932.9,469.1 L933.4,469.7 L933.9,470.7 L934.4,472.5 L934.9,474.2 L935.4,475.0 L935.9,474.7 L936.4,473.9 L936.9,472.7 L937.4,471.5 L937.9,470.2 L938.4,469.0 L938.9,467.7 L939.4,466.3 L939.9,464.8 L940.4,463.3 L940.9,461.8 L941.4,460.4 L941.9,459.2 L942.4,458.1 L942.9,457.1 L943.4,456.0 L943.9,455.0 L944.4,454.1 L944.9,453.1 L945.4,452.3 L945.9,451.5 L946.4,450.8 L946.9,450.1 L947.4,449.5 L947.9,448.9 L948.4,448.4 L948.9,447.8 L949.4,447.3 L949.9,446.9 L950.4,446.5 L950.9,446.1 L951.4,445.8 L951.9,445.6 L952.4,445.5 L952.9,445.4 L953.4,445.3 L953.9,445.2 L954.4,445.1 L954.9,445.0 L955.4,445.0 L955.9,445.0 L956.4,445.1 L956.9,445.2 L957.4,445.4 L957.9,445.7 L958.4,446.0 L958.9,446.3 L959.4,446.6 L959.9,446.9 L960.4,447.3 L960.9,447.8 L961.4,448.4 L961.9,449.0 L962.4,449.7 L962.9,450.5 L963.4,451.3 L963.9,452.2 L964.4,453.0 L964.9,453.8 L965.4,454.7 L965.9,455.6 L966.4,456.5 L966.9,457.5 L967.4,458.5 L967.9,459.5 L968.4,460.6 L968.9,461.6 L969.4,462.7 L969.9,463.7 L970.4,464.8 L970.9,465.8 L971.4,466.8 L971.9,467.8 L972.4,468.9 L972.9,469.9 L973.4,471.0 L973.9,472.1 L974.4,473.1 L974.9,474.1 L975.4,475.1 L975.9,476.1 L976.4,477.0 L976.9,477.8 L977.4,478.7 L977.9,479.5 L978.4,480.3 L978.9,481.1 L979.4,481.9 L979.9,482.6 L980.4,483.3 L980.9,483.9 L981.4,484.4 L981.9,484.9 L982.4,485.3 L982.9,485.8 L983.4,486.2 L983.9,486.6 L984.4,487.0 L984.9,487.3 L985.4,487.6 L985.9,487.8 L986.4,487.9 L986.9,488.0 L987.4,488.0 L987.9,487.9 L988.4,487.8 L988.9,487.6 L989.4,487.3 L989.9,487.1 L990.4,486.8 L990.9,486.6 L991.4,486.3 L991.9,486.0 L992.4,485.8 L992.9,485.5 L993.4,485.2 L993.9,484.8 L994.4,484.5 L994.9,484.1 L995.4,483.8 L995.9,483.5 L996.4,483.2 L996.9,483.0 L997.4,482.9 L997.9,482.7 L998.4,482.6 L998.9,482.5 L999.4,482.3 L999.9,482.2 L1000.4,482.1 L1000.9,482.1 L1001.4,482.0 L1001.9,482.0 L1002.4,482.0 L1002.9,482.1 L1003.4,482.2 L1003.9,482.4 L1004.4,482.6 L1004.9,482.9 L1005.4,483.1 L1005.9,483.4 L1006.4,483.7 L1006.9,483.9 L1007.4,484.2 L1007.9,484.6 L1008.4,484.9 L1008.9,485.3 L1009.4,485.7 L1009.9,486.2 L1010.4,486.6 L1010.9,487.1 L1011.4,487.6 L1011.9,488.0 L1012.4,488.5 L1012.9,488.9 L1013.4,489.3 L1013.9,489.8 L1014.4,490.2 L1014.9,490.6 L1015.4,491.1 L1015.9,491.5 L1016.4,492.0 L1016.9,492.4 L1017.4,492.8 L1017.9,493.2 L1018.4,493.6 L1018.9,493.9 L1019.4,494.3 L1019.9,494.6 L1020.4,494.9 L1020.9,495.2 L1021.4,495.5 L1021.9,495.8 L1022.4,496.1 L1022.9,496.4 L1023.4,496.7 L1023.9,497.0 L1024.4,497.2 L1024.9,497.5 L1025.4,497.7 L1025.9,498.0 L1026.4,498.2 L1026.9,498.4 L1027.4,498.6 L1027.9,498.8 L1028.4,499.0 L1028.9,499.1 L1029.4,499.3 L1029.9,499.6 L1030.4,499.8 L1030.9,500.0 L1031.4,500.3 L1031.9,500.6 L1032.4,500.9 L1032.9,501.2 L1033.4,501.4 L1033.9,501.7 L1034.4,502.0 L1034.9,502.3 L1035.4,502.6 L1035.9,502.9 L1036.4,503.2 L1036.9,503.5 L1037.4,503.7 L1037.9,504.0 L1038.4,504.2 L1038.9,504.4 L1039.4,504.6 L1039.9,504.9 L1040.4,505.1 L1040.9,505.3 L1041.4,505.5 L1041.9,505.8 L1042.4,506.0 L1042.9,506.1 L1043.4,506.3 L1043.9,506.5 L1044.4,506.6 L1044.9,506.8 L1045.4,506.9 L1045.9,507.0 L1046.4,507.1 L1046.9,507.1 L1047.4,507.2 L1047.9,507.3 L1048.4,507.3 L1048.9,507.4 L1049.4,507.5 L1049.9,507.5 L1050.4,507.5 L1050.9,507.6 L1051.4,507.6 L1051.9,507.6 L1052.4,507.6 L1052.9,507.6 L1053.4,507.5 L1053.9,507.4 L1054.4,507.3 L1054.9,507.2 L1055.4,507.0 L1055.9,506.9 L1056.4,506.7 L1056.9,506.6 L1057.4,506.4 L1057.9,506.3 L1058.4,506.1 L1058.9,505.9 L1059.4,505.8 L1059.9,505.6 L1060.4,505.5 L1060.9,505.3 L1061.4,505.2 L1061.9,505.1 L1062.4,504.9 L1062.9,504.7 L1063.4,504.6 L1063.9,504.4 L1064.4,504.3 L1064.9,504.1 L1065.4,503.9 L1065.9,503.8 L1066.4,503.6 L1066.9,503.5 L1067.4,503.3 L1067.9,503.2 L1068.4,503.0 L1068.9,502.9 L1069.4,502.8 L1069.9,502.6 L1070.4,502.5 L1070.9,502.4 L1071.4,502.3 L1071.9,502.2 L1072.4,502.0 L1072.9,501.9 L1073.4,501.8 L1073.9,501.7 L1074.4,501.6 L1074.9,501.5 L1075.4,501.5 L1075.9,501.4 L1076.4,501.3 L1076.9,501.2 L1077.4,501.1 L1077.9,501.0 L1078.4,500.9 L1078.9,500.8 L1079.4,500.6 L1079.9,500.5 L1080.4,500.4 L1080.9,500.3 L1081.4,500.2 L1081.9,500.0 L1082.4,499.9 L1082.9,499.7 L1083.4,499.6 L1083.9,499.4 L1084.4,499.2 L1084.9,499.0 L1085.4,498.9 L1085.9,498.7 L1086.4,498.5 L1086.9,498.3 L1087.4,498.1 L1087.9,497.9 L1088.4,497.7 L1088.9,497.4 L1089.4,497.2 L1089.9,497.0 L1090.4,496.8 L1090.9,496.6 L1091.4,496.4 L1091.9,496.2 L1092.4,496.0 L1092.9,495.8 L1093.4,495.6 L1093.9,495.4 L1094.4,495.2 L1094.9,495.0 L1095.4,494.8 L1095.9,494.6 L1096.4,494.4 L1096.9,494.1 L1097.4,493.9 L1097.9,493.7 L1098.4,493.5 L1098.9,493.3 L1099.4,493.2 L1099.9,493.0 L1100.4,492.8 L1100.9,492.7 L1101.4,492.5 L1101.9,492.4 L1102.4,492.3 L1102.9,492.2 L1103.4,492.1 L1103.9,492.0 L1104.4,491.9 L1104.9,491.8 L1105.4,491.7 L1105.9,491.6 L1106.4,491.5 L1106.9,491.4 L1107.4,491.3 L1107.9,491.2 L1108.4,491.2 L1108.9,491.1 L1109.4,491.1 L1109.9,491.0 L1110.4,491.0 L1110.9,491.0 L1111.4,491.0 L1111.9,491.0 L1112.4,491.1 L1112.9,491.2 L1113.4,491.2 L1113.9,491.3 L1114.4,491.5 L1114.9,491.6 L1115.4,491.7 L1115.9,491.9 L1116.4,492.0 L1116.9,492.2 L1117.4,492.4 L1117.9,492.6 L1118.4,492.8 L1118.9,493.0 L1119.4,493.3 L1119.9,493.7 L1120.4,494.1 L1120.9,494.6 L1121.4,495.0 L1121.9,495.5 L1122.4,496.0 L1122.9,496.6 L1123.4,497.1 L1123.9,497.6 L1124.4,498.1 L1124.9,498.6 L1125.4,499.1 L1125.9,499.5 L1126.4,499.9 L1126.9,500.4 L1127.4,500.8 L1127.9,501.3 L1128.4,501.8 L1128.9,502.2 L1129.4,502.7 L1129.9,503.1 L1130.4,503.6 L1130.9,504.0 L1131.4,504.4 L1131.9,504.8 L1132.4,505.1 L1132.9,505.4 L1133.4,505.7 L1133.9,506.0 L1134.4,506.2 L1134.9,506.4 L1135.4,506.6 L1135.9,506.8 L1136.4,507.0 L1136.9,507.2 L1137.4,507.3 L1137.9,507.5 L1138.4,507.6 L1138.9,507.8 L1139.4,507.9 L1139.9,507.9 L1140.4,508.0 L1140.9,508.0 L1141.4,508.0 L1141.9,507.9 L1142.4,507.8 L1142.9,507.7 L1143.4,507.6 L1143.9,507.4 L1144.4,507.2 L1144.9,507.0 L1145.4,506.8 L1145.9,506.5 L1146.4,506.3 L1146.9,506.1 L1147.4,505.9 L1147.9,505.6 L1148.4,505.4 L1148.9,505.2 L1149.4,504.9 L1149.9,504.6 L1150.4,504.4 L1150.9,504.1 L1151.4,503.7 L1151.9,503.4 L1152.4,503.1 L1152.9,502.8 L1153.4,502.5 L1153.9,502.1 L1154.4,501.8 L1154.9,501.5 L1155.4,501.2 L1155.9,500.9 L1156.4,500.7 L1156.9,500.4 L1157.4,500.2 L1157.9,500.0 L1158.4,499.9 L1158.9,499.7 L1159.4,499.5 L1159.9,499.4 L1160.4,499.2 L1160.9,499.1 L1161.4,498.9 L1161.9,498.8 L1162.4,498.7 L1162.9,498.5 L1163.4,498.4 L1163.9,498.3 L1164.4,498.2 L1164.9,498.1 L1165.4,498.0 L1165.9,497.8 L1166.4,497.7 L1166.9,497.6 L1167.4,497.5 L1167.9,497.4 L1168.4,497.3 L1168.9,497.2 L1169.4,497.1 L1169.9,497.0 L1170.4,496.9 L1170.9,496.8 L1171.4,496.7 L1171.9,496.6 L1172.4,496.5 L1172.9,496.4 L1173.4,496.3 L1173.9,496.1 L1174.4,496.0 L1174.9,495.9 L1175.4,495.8 L1175.9,495.7 L1176.4,495.6 L1176.9,495.5 L1177.4,495.4 L1177.9,495.4 L1178.4,495.3 L1178.9,495.2 L1179.4,495.2 L1179.9,495.1 L1180.4,495.1 L1180.9,495.0 L1181.4,495.0 L1181.9,495.0 L1182.4,495.0 L1182.9,495.0 L1183.4,495.1 L1183.9,495.2 L1184.4,495.3 L1184.9,495.4 L1185.4,495.5 L1185.9,495.7 L1186.4,495.8 L1186.9,496.0 L1187.4,496.2 L1187.9,496.3 L1188.4,496.5 L1188.9,496.7 L1189.4,496.8 L1189.9,497.0 L1190.4,497.1 L1190.9,497.3 L1191.4,497.5 L1191.9,497.7 L1192.4,497.9 L1192.9,498.1 L1193.4,498.3 L1193.9,498.5 L1194.4,498.8 L1194.9,499.0 L1195.4,499.2 L1195.9,499.4 L1196.4,499.6 L1196.9,499.8 L1197.4,499.9 L1197.9,500.1 L1198.4,500.2 L1198.9,500.3 L1199.4,500.4 L1199.9,500.4 L1200.4,500.4 L1200.9,500.4 L1201.4,500.4 L1201.9,500.4 L1202.4,500.5 L1202.9,500.5 L1203.4,500.5 L1203.9,500.5 L1204.4,500.5 L1204.9,500.5 L1205.4,500.5 L1205.9,500.5 L1206.4,500.5 L1206.9,500.5 L1207.4,500.5 L1207.9,500.5 L1208.4,500.5 L1208.9,500.5 L1209.4,500.5 L1209.9,500.5 L1210.4,500.6 L1210.9,500.6 L1211.4,500.6 L1211.9,500.6 L1212.4,500.6 L1212.9,500.7 L1213.4,500.8 L1213.9,500.8 L1214.4,501.0 L1214.9,501.1 L1215.4,501.3 L1215.9,501.4 L1216.4,501.6 L1216.9,501.8 L1217.4,502.0 L1217.9,502.2 L1218.4,502.4 L1218.9,502.6 L1219.4,502.8 L1219.9,503.0 L1220.4,503.2 L1220.9,503.4 L1221.4,503.6 L1221.9,503.9 L1222.4,504.2 L1222.9,504.5 L1223.4,504.8 L1223.9,505.1 L1224.4,505.4 L1224.9,505.7 L1225.4,505.9 L1225.9,506.2 L1226.4,506.4 L1226.9,506.6 L1227.4,506.8 L1227.9,507.0 L1228.4,507.1 L1228.9,507.2 L1229.4,507.3 L1229.9,507.5 L1230.4,507.6 L1230.9,507.7 L1231.4,507.8 L1231.9,507.8 L1232.4,507.9 L1232.9,508.0 L1233.4,508.0 L1233.9,508.0 L1234.4,508.0 L1234.9,507.9 L1235.4,507.8 L1235.9,507.7 L1236.4,507.5 L1236.9,507.3 L1237.4,507.0 L1237.9,506.8 L1238.4,506.5 L1238.9,506.2 L1239.4,505.9 L1239.9,505.7 L1240.4,505.3 L1240.9,505.0 L1241.4,504.6 L1241.9,504.1 L1242.4,503.6 L1242.9,503.0 L1243.4,502.4 L1243.9,501.8 L1244.4,501.2 L1244.9,500.6 L1245.4,500.0 L1245.9,499.3 L1246.4,498.7 L1246.9,498.1 L1247.4,497.5 L1247.9,496.9 L1248.4,496.2 L1248.9,495.6 L1249.4,494.9 L1249.9,494.2 L1250.4,493.5 L1250.9,492.8 L1251.4,492.1 L1251.9,491.5 L1252.4,490.8 L1252.9,490.2 L1253.4,489.6 L1253.9,489.1 L1254.4,488.6 L1254.9,488.1 L1255.4,487.6 L1255.9,487.1 L1256.4,486.6 L1256.9,486.2 L1257.4,485.7 L1257.9,485.3 L1258.4,485.0 L1258.9,484.6 L1259.4,484.3 L1259.9,484.0 L1260.4,483.8 L1260.9,483.6 L1261.4,483.4 L1261.9,483.2 L1262.4,483.0 L1262.9,482.9 L1263.4,482.8 L1263.9,482.8 L1264.4,482.9 L1264.9,483.0 L1265.4,483.1 L1265.9,483.3 L1266.4,483.6 L1266.9,483.8 L1267.4,484.1 L1267.9,484.3 L1268.4,484.7 L1268.9,485.1 L1269.4,485.6 L1269.9,486.1 L1270.4,486.8 L1270.9,487.4 L1271.4,488.2 L1271.9,488.9 L1272.4,489.7 L1272.9,490.4 L1273.4,491.1 L1273.9,491.9 L1274.4,492.6 L1274.9,493.3 L1275.4,494.1 L1275.9,494.8 L1276.4,495.6 L1276.9,496.4 L1277.4,497.2 L1277.9,498.0 L1278.4,498.8 L1278.9,499.5 L1279.4,500.2 L1279.9,500.9 L1280.4,501.5 L1280.9,502.1 L1281.4,502.7 L1281.9,503.3 L1282.4,503.8 L1282.9,504.4 L1283.4,504.9 L1283.9,505.4 L1284.4,505.9 L1284.9,506.3 L1285.0,506.4" fill="none" stroke="#000" stroke-width="3.7" stroke-linejoin="round" stroke-linecap="butt"/>
<text x="761.8" y="91.9" font-size="27.5" text-anchor="end">0.6</text>
<text x="761.8" y="237.2" font-size="27.5" text-anchor="end">0.4</text>
<text x="761.8" y="382.4" font-size="27.5" text-anchor="end">0.2</text>
<text x="761.8" y="527.7" font-size="27.5" text-anchor="end">0.0</text>
<text x="781.1" y="562.3" font-size="27.5" text-anchor="middle">0.0</text>
<text x="907.1" y="562.3" font-size="27.5" text-anchor="middle">0.5</text>
<text x="1033.1" y="562.3" font-size="27.5" text-anchor="middle">1.0</text>
<text x="1159.1" y="562.3" font-size="27.5" text-anchor="middle">1.5</text>
<text x="1285.1" y="562.3" font-size="27.5" text-anchor="middle">2.0</text>
<text x="1034.3" y="614.9" font-size="34.3" text-anchor="middle">Frequency (Hz)</text>
<text transform="translate(701.5,299.2) rotate(-90)" font-size="34.5" text-anchor="middle">Norm. Amp. (10<tspan dy="-3">*</tspan><tspan font-size="22" dy="-14.5">-2</tspan><tspan dy="17.5">)</tspan></text>
<text x="1080.2" y="28.4" font-size="34.9" font-weight="bold" text-anchor="middle">Control</text>
<rect x="1080.3" y="171.8" width="65.4" height="23.2" fill="#b5b5b5"/>
<rect x="1080.7" y="206.4" width="63.5" height="23.5" fill="#fff" stroke="#0a0a0a" stroke-width="1.6"/>
<text x="1164.4" y="192.8" font-size="30.8">Pre-test</text>
<text x="1164.4" y="229.2" font-size="30.8">Post-test</text>
<text transform="translate(807.0,156.7) scale(0.85,1)" font-size="27.5" fill="#000">P</text>
<text x="822.5" y="156.7" font-size="18.2" fill="#000" textLength="48.5" lengthAdjust="spacingAndGlyphs">0.2HZ</text>
<text transform="translate(890.1,157.9) scale(0.85,1)" font-size="27.5" fill="#000">P</text>
<text x="905.2" y="157.9" font-size="18.2" fill="#000" textLength="46.3" lengthAdjust="spacingAndGlyphs">0.5Hz</text>
</g>
</svg>
</body></html>
